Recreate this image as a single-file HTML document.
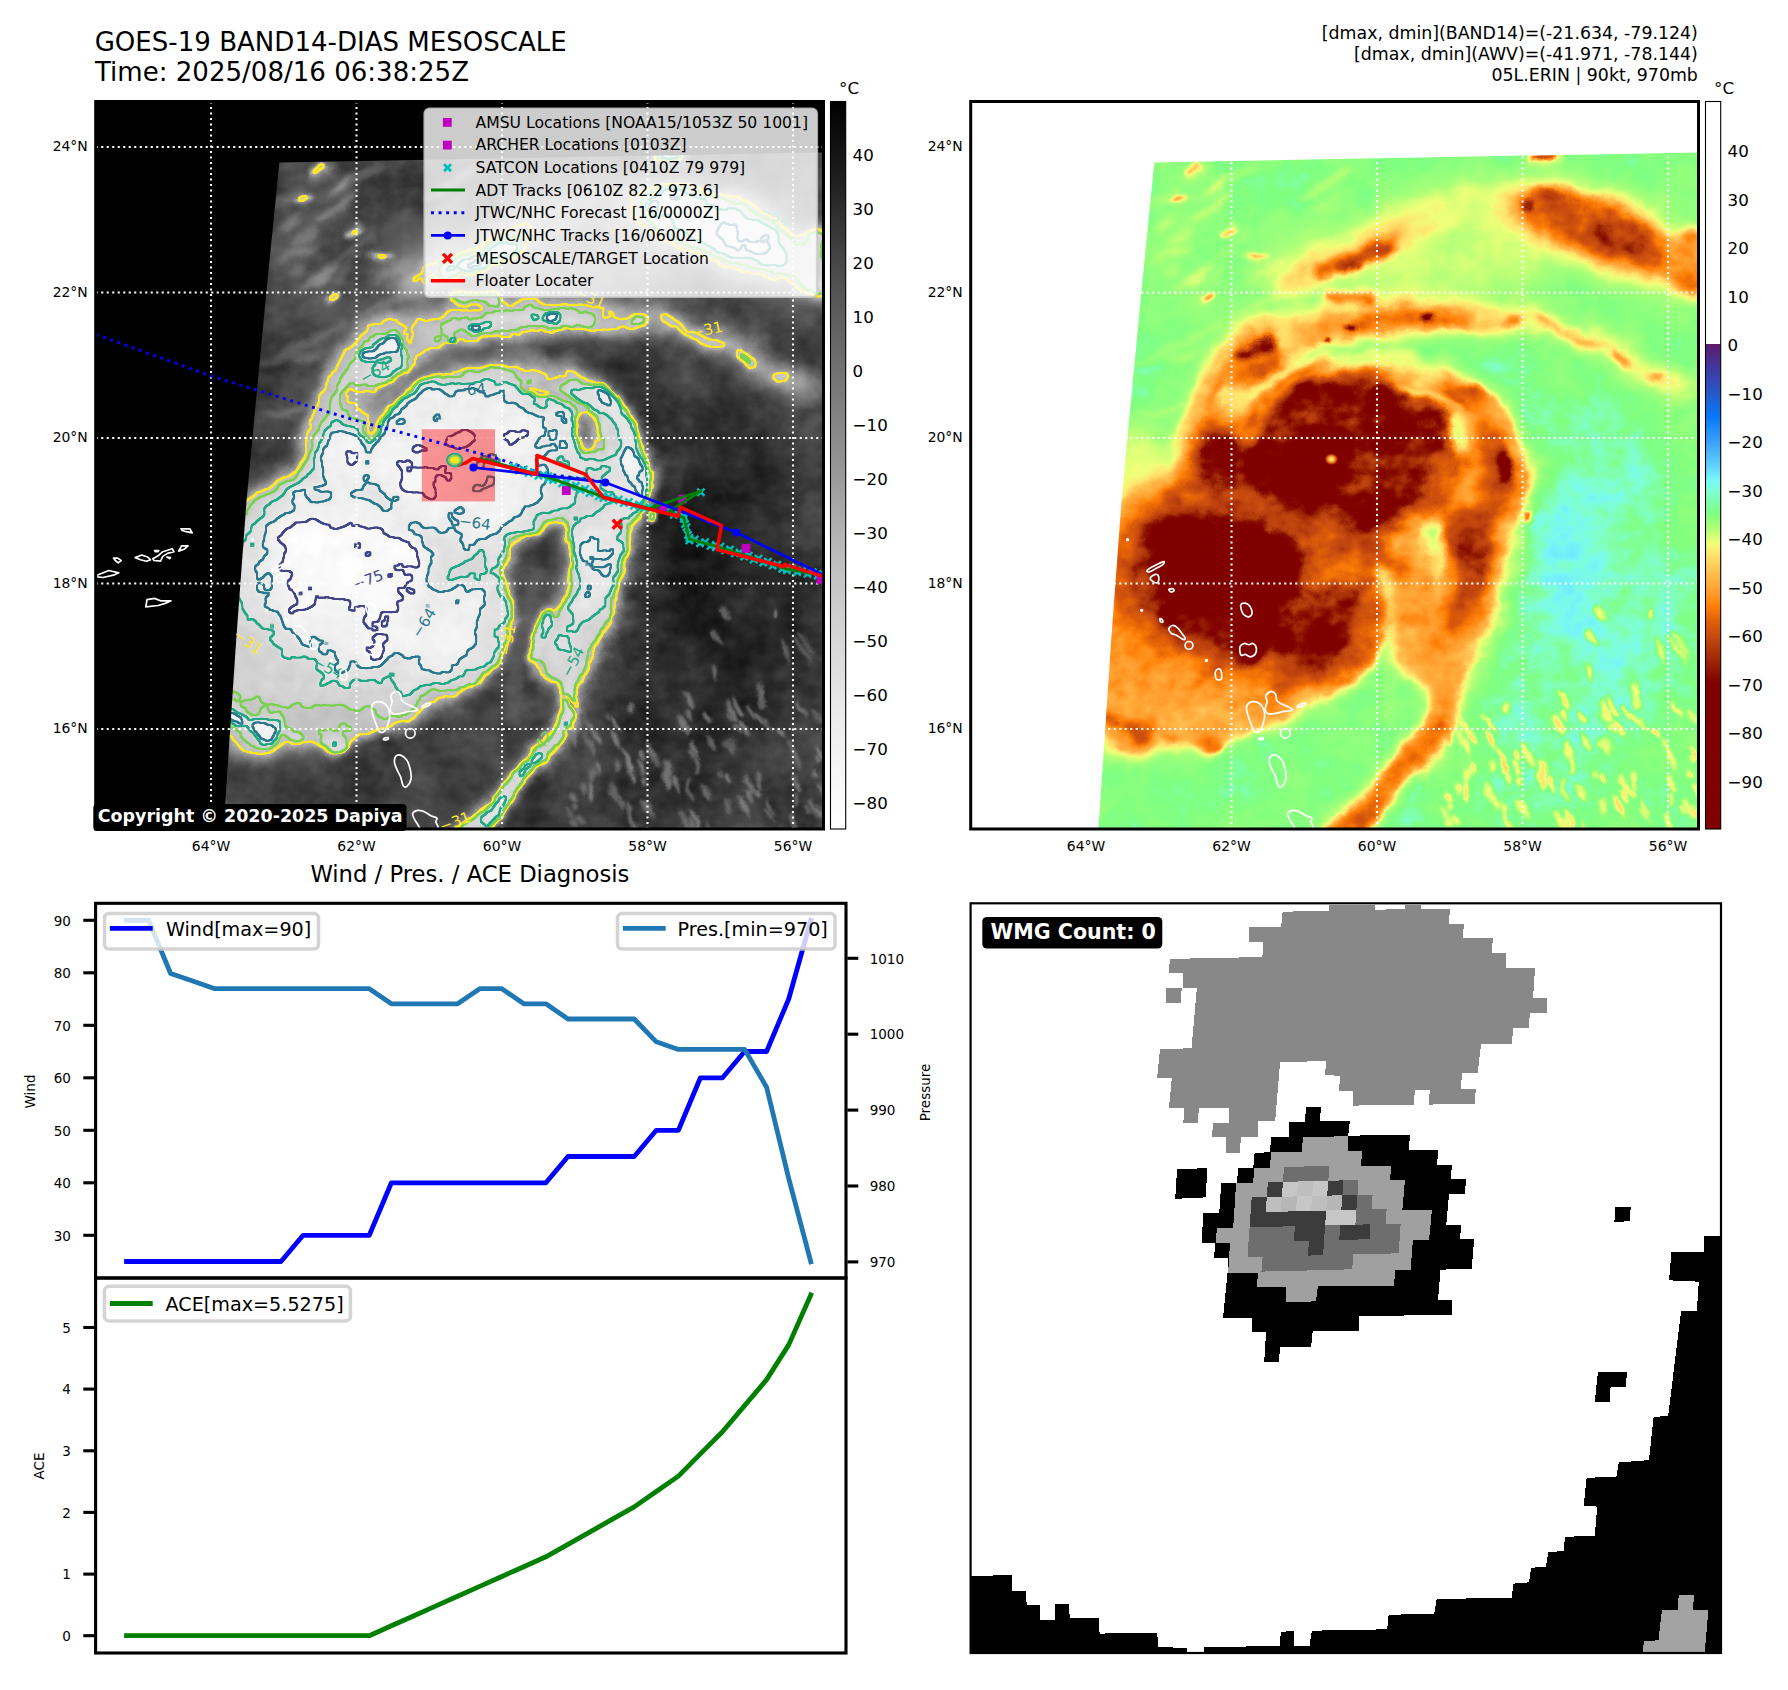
<!DOCTYPE html><html><head><meta charset="utf-8"><title>GOES-19 BAND14-DIAS MESOSCALE</title><style>html,body{margin:0;padding:0;background:#fff;overflow:hidden}svg{display:block}</style></head><body>
<svg width="1788" height="1690" viewBox="0 0 1788 1690" font-family="'DejaVu Sans','Liberation Sans',sans-serif">
<defs>
<filter id="b1_5" filterUnits="userSpaceOnUse" x="0" y="0" width="1000" height="1000" color-interpolation-filters="sRGB"><feGaussianBlur stdDeviation="1.5"/></filter><filter id="b1_8" filterUnits="userSpaceOnUse" x="0" y="0" width="1000" height="1000" color-interpolation-filters="sRGB"><feGaussianBlur stdDeviation="1.8"/></filter><filter id="b2" filterUnits="userSpaceOnUse" x="0" y="0" width="1000" height="1000" color-interpolation-filters="sRGB"><feGaussianBlur stdDeviation="2"/></filter><filter id="b2_5" filterUnits="userSpaceOnUse" x="0" y="0" width="1000" height="1000" color-interpolation-filters="sRGB"><feGaussianBlur stdDeviation="2.5"/></filter><filter id="b3" filterUnits="userSpaceOnUse" x="0" y="0" width="1000" height="1000" color-interpolation-filters="sRGB"><feGaussianBlur stdDeviation="3"/></filter><filter id="b3_5" filterUnits="userSpaceOnUse" x="0" y="0" width="1000" height="1000" color-interpolation-filters="sRGB"><feGaussianBlur stdDeviation="3.5"/></filter><filter id="b4" filterUnits="userSpaceOnUse" x="0" y="0" width="1000" height="1000" color-interpolation-filters="sRGB"><feGaussianBlur stdDeviation="4"/></filter><filter id="b5" filterUnits="userSpaceOnUse" x="0" y="0" width="1000" height="1000" color-interpolation-filters="sRGB"><feGaussianBlur stdDeviation="5"/></filter><filter id="b6" filterUnits="userSpaceOnUse" x="0" y="0" width="1000" height="1000" color-interpolation-filters="sRGB"><feGaussianBlur stdDeviation="6"/></filter><filter id="b7" filterUnits="userSpaceOnUse" x="0" y="0" width="1000" height="1000" color-interpolation-filters="sRGB"><feGaussianBlur stdDeviation="7"/></filter><filter id="b8" filterUnits="userSpaceOnUse" x="0" y="0" width="1000" height="1000" color-interpolation-filters="sRGB"><feGaussianBlur stdDeviation="8"/></filter><filter id="b9" filterUnits="userSpaceOnUse" x="0" y="0" width="1000" height="1000" color-interpolation-filters="sRGB"><feGaussianBlur stdDeviation="9"/></filter><filter id="b11" filterUnits="userSpaceOnUse" x="0" y="0" width="1000" height="1000" color-interpolation-filters="sRGB"><feGaussianBlur stdDeviation="11"/></filter><filter id="b12" filterUnits="userSpaceOnUse" x="0" y="0" width="1000" height="1000" color-interpolation-filters="sRGB"><feGaussianBlur stdDeviation="12"/></filter><filter id="b14" filterUnits="userSpaceOnUse" x="0" y="0" width="1000" height="1000" color-interpolation-filters="sRGB"><feGaussianBlur stdDeviation="14"/></filter><filter id="b22" filterUnits="userSpaceOnUse" x="0" y="0" width="1000" height="1000" color-interpolation-filters="sRGB"><feGaussianBlur stdDeviation="22"/></filter><filter id="b30" filterUnits="userSpaceOnUse" x="0" y="0" width="1000" height="1000" color-interpolation-filters="sRGB"><feGaussianBlur stdDeviation="30"/></filter><filter id="b38" filterUnits="userSpaceOnUse" x="0" y="0" width="1000" height="1000" color-interpolation-filters="sRGB"><feGaussianBlur stdDeviation="38"/></filter>
<filter id="fTL" filterUnits="userSpaceOnUse" x="90" y="96" width="740" height="740" color-interpolation-filters="sRGB"><feTurbulence type="fractalNoise" baseFrequency="0.018" numOctaves="5" seed="4" result="n0"/><feColorMatrix in="n0" type="matrix" values="1 0 0 0 0  1 0 0 0 0  1 0 0 0 0  0 0 0 0 1" result="n"/><feDisplacementMap in="SourceGraphic" in2="n0" scale="24" xChannelSelector="R" yChannelSelector="G" result="d"/><feComposite operator="arithmetic" in="d" in2="n" k1="0" k2="1" k3="0.16" k4="-0.08" result="f0"/><feTurbulence type="fractalNoise" baseFrequency="0.06 0.075" numOctaves="2" seed="11" result="m0"/><feColorMatrix in="m0" type="matrix" values="1 0 0 0 0  1 0 0 0 0  1 0 0 0 0  0 0 0 0 1" result="m"/><feComposite operator="arithmetic" in="f0" in2="m" k1="0" k2="1" k3="0.075" k4="-0.0375" result="f"/><feComponentTransfer in="f" result="img"><feFuncR type="table" tableValues="1.000 1.000 1.000 1.000 1.000 1.000 1.000 1.000 0.998 0.991 0.983 0.976 0.969 0.963 0.956 0.948 0.941 0.930 0.921 0.910 0.898 0.887 0.879 0.867 0.856 0.843 0.829 0.819 0.805 0.792 0.778 0.764 0.754 0.739 0.720 0.701 0.682 0.667 0.648 0.629 0.610 0.591 0.577 0.560 0.543 0.526 0.509 0.496 0.478 0.461 0.444 0.432 0.416 0.400 0.383 0.367 0.355 0.339 0.323 0.301 0.279 0.262 0.240 0.218 0.196 0.173 0.157 0.137 0.118 0.100 0.082 0.068 0.050 0.032 0.014 0.000"/><feFuncG type="table" tableValues="1.000 1.000 1.000 1.000 1.000 1.000 1.000 1.000 0.998 0.991 0.983 0.976 0.969 0.963 0.956 0.948 0.941 0.930 0.921 0.910 0.898 0.887 0.879 0.867 0.856 0.843 0.829 0.819 0.805 0.792 0.778 0.764 0.754 0.739 0.720 0.701 0.682 0.667 0.648 0.629 0.610 0.591 0.577 0.560 0.543 0.526 0.509 0.496 0.478 0.461 0.444 0.432 0.416 0.400 0.383 0.367 0.355 0.339 0.323 0.301 0.279 0.262 0.240 0.218 0.196 0.173 0.157 0.137 0.118 0.100 0.082 0.068 0.050 0.032 0.014 0.000"/><feFuncB type="table" tableValues="1.000 1.000 1.000 1.000 1.000 1.000 1.000 1.000 0.998 0.991 0.983 0.976 0.969 0.963 0.956 0.948 0.941 0.930 0.921 0.910 0.898 0.887 0.879 0.867 0.856 0.843 0.829 0.819 0.805 0.792 0.778 0.764 0.754 0.739 0.720 0.701 0.682 0.667 0.648 0.629 0.610 0.591 0.577 0.560 0.543 0.526 0.509 0.496 0.478 0.461 0.444 0.432 0.416 0.400 0.383 0.367 0.355 0.339 0.323 0.301 0.279 0.262 0.240 0.218 0.196 0.173 0.157 0.137 0.118 0.100 0.082 0.068 0.050 0.032 0.014 0.000"/></feComponentTransfer><feColorMatrix in="f" type="matrix" values="0 0 0 0 0  0 0 0 0 0  0 0 0 0 0  1 0 0 0 0" result="fa"/><feComponentTransfer in="fa" result="L31m0"><feFuncA type="discrete" tableValues="1 1 1 1 1 1 1 1 1 1 1 1 1 1 1 1 1 1 1 1 1 1 1 1 1 1 1 1 1 1 1 1 1 1 1 1 1 1 1 1 1 1 1 1 1 1 1 1 1 1 1 1 1 1 1 1 1 1 1 1 1 1 1 1 1 1 1 1 1 0 0 0 0 0 0 0 0 0 0 0 0 0 0 0 0 0 0 0 0 0 0 0 0 0 0 0 0 0 0 0 0 0 0 0 0 0 0 0 0 0 0 0 0 0 0 0 0 0 0 0 0 0 0 0 0 0 0 0 0 0 0 0 0 0 0 0 0 0 0 0 0 0 0 0 0 0 0 0 0 0"/></feComponentTransfer><feGaussianBlur in="L31m0" stdDeviation="1.1" result="L31m1"/><feComponentTransfer in="L31m1" result="L31m"><feFuncA type="linear" slope="5" intercept="-2"/></feComponentTransfer><feMorphology in="L31m" operator="dilate" radius="1.3" result="L31d"/><feMorphology in="L31m" operator="erode" radius="1.0" result="L31e"/><feComposite in="L31d" in2="L31e" operator="out" result="L31r"/><feFlood flood-color="#fde725" result="L31c"/><feComposite in="L31c" in2="L31r" operator="in" result="L31k"/><feGaussianBlur in="L31k" stdDeviation="0.4" result="L31x"/><feComponentTransfer in="fa" result="L42m0"><feFuncA type="discrete" tableValues="1 1 1 1 1 1 1 1 1 1 1 1 1 1 1 1 1 1 1 1 1 1 1 1 1 1 1 1 1 1 1 1 1 1 1 1 1 1 1 1 1 1 1 1 1 1 1 1 1 1 1 1 1 1 1 1 1 1 0 0 0 0 0 0 0 0 0 0 0 0 0 0 0 0 0 0 0 0 0 0 0 0 0 0 0 0 0 0 0 0 0 0 0 0 0 0 0 0 0 0 0 0 0 0 0 0 0 0 0 0 0 0 0 0 0 0 0 0 0 0 0 0 0 0 0 0 0 0 0 0 0 0 0 0 0 0 0 0 0 0 0 0 0 0 0 0 0 0 0 0"/></feComponentTransfer><feGaussianBlur in="L42m0" stdDeviation="1.1" result="L42m1"/><feComponentTransfer in="L42m1" result="L42m"><feFuncA type="linear" slope="5" intercept="-2"/></feComponentTransfer><feMorphology in="L42m" operator="dilate" radius="1.3" result="L42d"/><feMorphology in="L42m" operator="erode" radius="1.0" result="L42e"/><feComposite in="L42d" in2="L42e" operator="out" result="L42r"/><feFlood flood-color="#7ad151" result="L42c"/><feComposite in="L42c" in2="L42r" operator="in" result="L42k"/><feGaussianBlur in="L42k" stdDeviation="0.4" result="L42x"/><feComponentTransfer in="fa" result="L54m0"><feFuncA type="discrete" tableValues="1 1 1 1 1 1 1 1 1 1 1 1 1 1 1 1 1 1 1 1 1 1 1 1 1 1 1 1 1 1 1 1 1 1 1 1 1 1 1 1 1 1 1 1 1 1 0 0 0 0 0 0 0 0 0 0 0 0 0 0 0 0 0 0 0 0 0 0 0 0 0 0 0 0 0 0 0 0 0 0 0 0 0 0 0 0 0 0 0 0 0 0 0 0 0 0 0 0 0 0 0 0 0 0 0 0 0 0 0 0 0 0 0 0 0 0 0 0 0 0 0 0 0 0 0 0 0 0 0 0 0 0 0 0 0 0 0 0 0 0 0 0 0 0 0 0 0 0 0 0"/></feComponentTransfer><feGaussianBlur in="L54m0" stdDeviation="1.1" result="L54m1"/><feComponentTransfer in="L54m1" result="L54m"><feFuncA type="linear" slope="5" intercept="-2"/></feComponentTransfer><feMorphology in="L54m" operator="dilate" radius="1.3" result="L54d"/><feMorphology in="L54m" operator="erode" radius="1.0" result="L54e"/><feComposite in="L54d" in2="L54e" operator="out" result="L54r"/><feFlood flood-color="#22a884" result="L54c"/><feComposite in="L54c" in2="L54r" operator="in" result="L54k"/><feGaussianBlur in="L54k" stdDeviation="0.4" result="L54x"/><feComponentTransfer in="fa" result="L64m0"><feFuncA type="discrete" tableValues="1 1 1 1 1 1 1 1 1 1 1 1 1 1 1 1 1 1 1 1 1 1 1 1 1 1 1 1 1 1 1 1 1 1 1 1 0 0 0 0 0 0 0 0 0 0 0 0 0 0 0 0 0 0 0 0 0 0 0 0 0 0 0 0 0 0 0 0 0 0 0 0 0 0 0 0 0 0 0 0 0 0 0 0 0 0 0 0 0 0 0 0 0 0 0 0 0 0 0 0 0 0 0 0 0 0 0 0 0 0 0 0 0 0 0 0 0 0 0 0 0 0 0 0 0 0 0 0 0 0 0 0 0 0 0 0 0 0 0 0 0 0 0 0 0 0 0 0 0 0"/></feComponentTransfer><feGaussianBlur in="L64m0" stdDeviation="1.1" result="L64m1"/><feComponentTransfer in="L64m1" result="L64m"><feFuncA type="linear" slope="5" intercept="-2"/></feComponentTransfer><feMorphology in="L64m" operator="dilate" radius="1.3" result="L64d"/><feMorphology in="L64m" operator="erode" radius="1.0" result="L64e"/><feComposite in="L64d" in2="L64e" operator="out" result="L64r"/><feFlood flood-color="#2a788e" result="L64c"/><feComposite in="L64c" in2="L64r" operator="in" result="L64k"/><feGaussianBlur in="L64k" stdDeviation="0.4" result="L64x"/><feComponentTransfer in="fa" result="L75m0"><feFuncA type="discrete" tableValues="1 1 1 1 1 1 1 1 1 1 1 1 1 1 1 1 1 1 1 1 1 1 1 1 1 0 0 0 0 0 0 0 0 0 0 0 0 0 0 0 0 0 0 0 0 0 0 0 0 0 0 0 0 0 0 0 0 0 0 0 0 0 0 0 0 0 0 0 0 0 0 0 0 0 0 0 0 0 0 0 0 0 0 0 0 0 0 0 0 0 0 0 0 0 0 0 0 0 0 0 0 0 0 0 0 0 0 0 0 0 0 0 0 0 0 0 0 0 0 0 0 0 0 0 0 0 0 0 0 0 0 0 0 0 0 0 0 0 0 0 0 0 0 0 0 0 0 0 0 0"/></feComponentTransfer><feGaussianBlur in="L75m0" stdDeviation="1.1" result="L75m1"/><feComponentTransfer in="L75m1" result="L75m"><feFuncA type="linear" slope="5" intercept="-2"/></feComponentTransfer><feMorphology in="L75m" operator="dilate" radius="1.3" result="L75d"/><feMorphology in="L75m" operator="erode" radius="1.0" result="L75e"/><feComposite in="L75d" in2="L75e" operator="out" result="L75r"/><feFlood flood-color="#414487" result="L75c"/><feComposite in="L75c" in2="L75r" operator="in" result="L75k"/><feGaussianBlur in="L75k" stdDeviation="0.4" result="L75x"/><feMerge><feMergeNode in="img"/><feMergeNode in="L31x"/><feMergeNode in="L42x"/><feMergeNode in="L54x"/><feMergeNode in="L64x"/><feMergeNode in="L75x"/></feMerge></filter><filter id="fTR" filterUnits="userSpaceOnUse" x="90" y="96" width="740" height="740" color-interpolation-filters="sRGB"><feTurbulence type="fractalNoise" baseFrequency="0.018" numOctaves="5" seed="4" result="n0"/><feColorMatrix in="n0" type="matrix" values="1 0 0 0 0  1 0 0 0 0  1 0 0 0 0  0 0 0 0 1" result="n"/><feDisplacementMap in="SourceGraphic" in2="n0" scale="24" xChannelSelector="R" yChannelSelector="G" result="d"/><feComposite operator="arithmetic" in="d" in2="n" k1="0" k2="1" k3="0.16" k4="-0.08" result="f0"/><feTurbulence type="fractalNoise" baseFrequency="0.06 0.075" numOctaves="2" seed="11" result="m0"/><feColorMatrix in="m0" type="matrix" values="1 0 0 0 0  1 0 0 0 0  1 0 0 0 0  0 0 0 0 1" result="m"/><feComposite operator="arithmetic" in="f0" in2="m" k1="0" k2="1" k3="0.075" k4="-0.0375" result="f"/><feComponentTransfer in="f"><feFuncR type="table" tableValues="0.502 0.502 0.502 0.502 0.502 0.502 0.502 0.502 0.502 0.502 0.502 0.502 0.502 0.502 0.502 0.510 0.565 0.643 0.722 0.759 0.797 0.835 0.872 0.919 0.959 1.000 1.000 1.000 1.000 1.000 1.000 1.000 1.000 1.000 1.000 1.000 1.000 0.989 0.973 0.957 0.941 0.916 0.891 0.866 0.841 0.816 0.791 0.765 0.740 0.715 0.690 0.675 0.660 0.645 0.630 0.615 0.601 0.586 0.571 0.556 0.541 0.521 0.502 0.502 0.502 0.502 0.502 0.497 0.486 0.476 0.455 0.445 0.436 0.427 0.417 0.408"/><feFuncG type="table" tableValues="0.000 0.000 0.000 0.000 0.000 0.000 0.000 0.000 0.000 0.000 0.000 0.000 0.000 0.000 0.000 0.016 0.094 0.173 0.243 0.276 0.308 0.340 0.371 0.418 0.460 0.502 0.544 0.586 0.627 0.659 0.693 0.727 0.764 0.806 0.849 0.881 0.903 0.926 0.951 0.975 1.000 1.000 1.000 1.000 1.000 1.000 1.000 1.000 1.000 1.000 1.000 1.000 1.000 1.000 1.000 1.000 1.000 1.000 1.000 1.000 1.000 1.000 1.000 1.000 1.000 1.000 1.000 0.995 0.986 0.977 0.946 0.931 0.915 0.899 0.884 0.868"/><feFuncB type="table" tableValues="0.000 0.000 0.000 0.000 0.000 0.000 0.000 0.000 0.000 0.000 0.000 0.000 0.000 0.000 0.000 0.000 0.008 0.027 0.047 0.056 0.059 0.046 0.033 0.031 0.031 0.031 0.084 0.136 0.188 0.220 0.254 0.288 0.322 0.357 0.391 0.416 0.434 0.445 0.453 0.462 0.471 0.471 0.471 0.471 0.471 0.471 0.471 0.471 0.471 0.471 0.471 0.473 0.476 0.478 0.481 0.483 0.486 0.488 0.491 0.493 0.495 0.499 0.509 0.537 0.608 0.678 0.749 0.816 0.878 0.941 0.977 0.980 0.983 0.985 0.988 0.991"/></feComponentTransfer></filter>
<clipPath id="quad"><polygon points="279.3,162.4 826.0,152.4 826.0,831.0 223.3,831.0 236.2,640.0 246.6,500.0 251.3,450.0 265.0,306.0"/></clipPath><clipPath id="axTL"><rect x="95.7" y="101.5" width="727.8" height="727.5"/></clipPath><radialGradient id="eyeg"><stop offset="0" stop-color="#fff080"/><stop offset="0.35" stop-color="#ffc050"/><stop offset="0.7" stop-color="#e06008" stop-opacity="0.9"/><stop offset="1" stop-color="#a02808" stop-opacity="0"/></radialGradient><linearGradient id="cbTL" x1="0" y1="0" x2="0" y2="1"><stop offset="0.000" stop-color="#000000"/><stop offset="0.050" stop-color="#0e0e0e"/><stop offset="0.100" stop-color="#1d1d1d"/><stop offset="0.150" stop-color="#2e2e2e"/><stop offset="0.200" stop-color="#404040"/><stop offset="0.250" stop-color="#515151"/><stop offset="0.300" stop-color="#5f5f5f"/><stop offset="0.350" stop-color="#6c6c6c"/><stop offset="0.400" stop-color="#7a7a7a"/><stop offset="0.450" stop-color="#888888"/><stop offset="0.500" stop-color="#959595"/><stop offset="0.550" stop-color="#a5a5a5"/><stop offset="0.600" stop-color="#b5b5b5"/><stop offset="0.650" stop-color="#c3c3c3"/><stop offset="0.700" stop-color="#cecece"/><stop offset="0.750" stop-color="#d9d9d9"/><stop offset="0.800" stop-color="#e2e2e2"/><stop offset="0.850" stop-color="#ececec"/><stop offset="0.900" stop-color="#f3f3f3"/><stop offset="0.950" stop-color="#f9f9f9"/><stop offset="1.000" stop-color="#ffffff"/></linearGradient><linearGradient id="cbTR" x1="0" y1="0" x2="0" y2="1"><stop offset="0.0000" stop-color="#ffffff"/><stop offset="0.3333" stop-color="#ffffff"/><stop offset="0.3333" stop-color="#5e1a6e"/><stop offset="0.3667" stop-color="#4038a0"/><stop offset="0.4000" stop-color="#2858c8"/><stop offset="0.4333" stop-color="#0878f8"/><stop offset="0.4667" stop-color="#38a0f8"/><stop offset="0.5000" stop-color="#60d0ff"/><stop offset="0.5200" stop-color="#78f8f8"/><stop offset="0.5400" stop-color="#80ffc8"/><stop offset="0.5667" stop-color="#80ff80"/><stop offset="0.5867" stop-color="#b0ff78"/><stop offset="0.6067" stop-color="#f0ff78"/><stop offset="0.6200" stop-color="#ffe870"/><stop offset="0.6467" stop-color="#ffc050"/><stop offset="0.6733" stop-color="#ffa030"/><stop offset="0.6933" stop-color="#ff8008"/><stop offset="0.7133" stop-color="#e06008"/><stop offset="0.7333" stop-color="#c84c10"/><stop offset="0.7600" stop-color="#a83008"/><stop offset="0.7867" stop-color="#881000"/><stop offset="0.8000" stop-color="#800000"/><stop offset="1.0000" stop-color="#800000"/></linearGradient>
<g id="fld"><rect x="80" y="90" width="760" height="750" fill="#d1d1d1"/><ellipse cx="715.0" cy="590.0" rx="75.0" ry="180.0" fill="#e7e7e7" filter="url(#b38)"/><ellipse cx="650.0" cy="770.0" rx="60.0" ry="50.0" fill="#dddddd" filter="url(#b30)"/><ellipse cx="330.0" cy="260.0" rx="60.0" ry="90.0" fill="#c5c5c5" filter="url(#b30)"/><ellipse cx="540.0" cy="262.0" rx="150.0" ry="45.0" fill="#9c9c9c" filter="url(#b22)"/><ellipse cx="333.3" cy="210.7" rx="23.0" ry="3.5" fill="#949494" transform="rotate(-26.60294989233277 333.3 210.7)" filter="url(#b3)"/><ellipse cx="340.8" cy="185.7" rx="20.1" ry="3.5" fill="#939393" transform="rotate(-29.158857908440353 340.8 185.7)" filter="url(#b3)"/><ellipse cx="287.6" cy="194.5" rx="18.5" ry="3.5" fill="#acacac" transform="rotate(-36.90495097125886 287.6 194.5)" filter="url(#b3)"/><ellipse cx="315.2" cy="339.4" rx="29.0" ry="3.5" fill="#a4a4a4" transform="rotate(-30.082988133730495 315.2 339.4)" filter="url(#b3)"/><ellipse cx="450.7" cy="182.6" rx="27.2" ry="3.5" fill="#9b9b9b" transform="rotate(-36.39362291606406 450.7 182.6)" filter="url(#b3)"/><ellipse cx="296.2" cy="253.3" rx="26.3" ry="3.5" fill="#989898" transform="rotate(-25.459995908438344 296.2 253.3)" filter="url(#b3)"/><ellipse cx="390.0" cy="270.5" rx="21.0" ry="3.5" fill="#949494" transform="rotate(-38.50997075084418 390.0 270.5)" filter="url(#b3)"/><ellipse cx="312.1" cy="353.7" rx="18.6" ry="3.5" fill="#9c9c9c" transform="rotate(-25.36095341230903 312.1 353.7)" filter="url(#b3)"/><ellipse cx="356.6" cy="250.9" rx="25.9" ry="3.5" fill="#a8a8a8" transform="rotate(-33.897587231946176 356.6 250.9)" filter="url(#b3)"/><ellipse cx="378.4" cy="311.8" rx="27.5" ry="3.5" fill="#a9a9a9" transform="rotate(-32.801555877745336 378.4 311.8)" filter="url(#b3)"/><ellipse cx="451.4" cy="201.9" rx="18.4" ry="3.5" fill="#a9a9a9" transform="rotate(-36.20038663348738 451.4 201.9)" filter="url(#b3)"/><ellipse cx="363.0" cy="180.6" rx="23.4" ry="3.5" fill="#aaaaaa" transform="rotate(-25.6743514930654 363.0 180.6)" filter="url(#b3)"/><ellipse cx="432.6" cy="254.7" rx="23.9" ry="3.5" fill="#a4a4a4" transform="rotate(-25.502619892937695 432.6 254.7)" filter="url(#b3)"/><ellipse cx="357.1" cy="396.8" rx="28.9" ry="3.5" fill="#a1a1a1" transform="rotate(-23.39619486313314 357.1 396.8)" filter="url(#b3)"/><ellipse cx="285.9" cy="359.4" rx="22.9" ry="3.5" fill="#b1b1b1" transform="rotate(-19.451880334757128 285.9 359.4)" filter="url(#b3)"/><ellipse cx="326.2" cy="274.2" rx="23.4" ry="3.5" fill="#939393" transform="rotate(-28.457617842505854 326.2 274.2)" filter="url(#b3)"/><ellipse cx="305.2" cy="201.6" rx="11.2" ry="3.5" fill="#aaaaaa" transform="rotate(-36.76649444953289 305.2 201.6)" filter="url(#b3)"/><ellipse cx="319.6" cy="275.6" rx="27.4" ry="3.5" fill="#959595" transform="rotate(-28.770314976266725 319.6 275.6)" filter="url(#b3)"/><ellipse cx="373.9" cy="408.5" rx="26.4" ry="3.5" fill="#adadad" transform="rotate(-33.03947338715257 373.9 408.5)" filter="url(#b3)"/><ellipse cx="349.8" cy="266.9" rx="27.7" ry="3.5" fill="#b0b0b0" transform="rotate(-36.226977355222274 349.8 266.9)" filter="url(#b3)"/><ellipse cx="306.7" cy="232.6" rx="14.7" ry="3.5" fill="#a1a1a1" transform="rotate(-25.27191240669361 306.7 232.6)" filter="url(#b3)"/><ellipse cx="322.3" cy="171.1" rx="18.4" ry="3.5" fill="#9d9d9d" transform="rotate(-25.8414694073402 322.3 171.1)" filter="url(#b3)"/><ellipse cx="446.6" cy="356.4" rx="20.3" ry="3.5" fill="#a5a5a5" transform="rotate(-23.094997938762464 446.6 356.4)" filter="url(#b3)"/><ellipse cx="284.7" cy="412.9" rx="25.6" ry="3.5" fill="#adadad" transform="rotate(-20.05317197008585 284.7 412.9)" filter="url(#b3)"/><ellipse cx="345.6" cy="277.7" rx="12.1" ry="3.5" fill="#a6a6a6" transform="rotate(-38.443804459532814 345.6 277.7)" filter="url(#b3)"/><ellipse cx="287.1" cy="226.4" rx="13.2" ry="3.5" fill="#9d9d9d" transform="rotate(-38.68560990274332 287.1 226.4)" filter="url(#b3)"/><ellipse cx="293.3" cy="268.2" rx="10.5" ry="3.5" fill="#adadad" transform="rotate(-24.64827530528803 293.3 268.2)" filter="url(#b3)"/><ellipse cx="301.7" cy="238.1" rx="16.9" ry="3.5" fill="#9d9d9d" transform="rotate(-36.92894423094513 301.7 238.1)" filter="url(#b3)"/><ellipse cx="427.8" cy="438.1" rx="19.3" ry="3.5" fill="#a1a1a1" transform="rotate(-37.85288346109586 427.8 438.1)" filter="url(#b3)"/><ellipse cx="315.0" cy="167.5" rx="10.0" ry="4.5" fill="#666666" transform="rotate(-18 315.0 167.5)" filter="url(#b2_5)"/><ellipse cx="299.4" cy="197.8" rx="10.0" ry="4.5" fill="#666666" transform="rotate(-18 299.4 197.8)" filter="url(#b2_5)"/><ellipse cx="356.3" cy="231.7" rx="10.0" ry="4.5" fill="#666666" transform="rotate(-18 356.3 231.7)" filter="url(#b2_5)"/><ellipse cx="382.0" cy="260.0" rx="10.0" ry="4.5" fill="#666666" transform="rotate(-18 382.0 260.0)" filter="url(#b2_5)"/><ellipse cx="330.0" cy="300.0" rx="10.0" ry="4.5" fill="#666666" transform="rotate(-18 330.0 300.0)" filter="url(#b2_5)"/><path d="M410.0,285.0C415.8,281.2 432.5,268.7 445.0,262.0C457.5,255.3 470.0,251.2 485.0,245.0C500.0,238.8 518.3,230.5 535.0,225.0C551.7,219.5 576.7,214.2 585.0,212.0" fill="none" stroke="#777777" stroke-width="34" stroke-linecap="round" stroke-linejoin="round" filter="url(#b9)"/><path d="M447.0,272.0C451.7,269.7 465.3,261.7 475.0,258.0C484.7,254.3 500.0,251.3 505.0,250.0" fill="none" stroke="#474747" stroke-width="20" stroke-linecap="round" stroke-linejoin="round" filter="url(#b5)"/><ellipse cx="477.0" cy="262.0" rx="12.0" ry="7.0" fill="#333333" transform="rotate(-20 477.0 262.0)" filter="url(#b3)"/><path d="M545.0,215.0C555.0,213.3 586.7,207.5 605.0,205.0C623.3,202.5 646.7,200.8 655.0,200.0" fill="none" stroke="#858585" stroke-width="50" stroke-linecap="round" stroke-linejoin="round" filter="url(#b14)"/><ellipse cx="737.0" cy="237.0" rx="122.0" ry="42.0" fill="#747474" transform="rotate(20 737.0 237.0)" filter="url(#b11)"/><ellipse cx="731.0" cy="234.0" rx="100.0" ry="25.0" fill="#4b4b4b" transform="rotate(20 731.0 234.0)" filter="url(#b7)"/><ellipse cx="757.0" cy="243.0" rx="48.0" ry="14.0" fill="#3a3a3a" transform="rotate(22 757.0 243.0)" filter="url(#b5)"/><ellipse cx="685.0" cy="205.0" rx="30.0" ry="12.0" fill="#414141" transform="rotate(30 685.0 205.0)" filter="url(#b5)"/><ellipse cx="653.0" cy="205.0" rx="8.0" ry="7.0" fill="#363636" filter="url(#b2)"/><ellipse cx="815.0" cy="262.0" rx="16.0" ry="34.0" fill="#525252" filter="url(#b7)"/><ellipse cx="670.0" cy="157.0" rx="16.0" ry="6.0" fill="#333333" filter="url(#b3)"/><path d="M322.0,440.0C324.3,432.5 330.3,408.7 336.0,395.0C341.7,381.3 347.0,366.8 356.0,358.0C365.0,349.2 378.5,346.2 390.0,342.0C401.5,337.8 410.8,336.0 425.0,333.0C439.2,330.0 458.3,326.5 475.0,324.0C491.7,321.5 508.3,319.5 525.0,318.0C541.7,316.5 558.3,314.7 575.0,315.0C591.7,315.3 616.7,319.2 625.0,320.0" fill="none" stroke="#727272" stroke-width="40" stroke-linecap="round" stroke-linejoin="round" filter="url(#b7)"/><path d="M330.0,430.0C332.0,423.7 336.7,403.7 342.0,392.0C347.3,380.3 353.2,367.8 362.0,360.0C370.8,352.2 382.8,349.3 395.0,345.0C407.2,340.7 420.0,337.3 435.0,334.0C450.0,330.7 468.3,327.3 485.0,325.0C501.7,322.7 518.3,320.5 535.0,320.0C551.7,319.5 576.7,321.7 585.0,322.0" fill="none" stroke="#5f5f5f" stroke-width="18" stroke-linecap="round" stroke-linejoin="round" filter="url(#b5)"/><path d="M332.0,440.0C334.7,433.0 341.3,411.0 348.0,398.0C354.7,385.0 363.0,371.3 372.0,362.0C381.0,352.7 397.0,345.3 402.0,342.0" fill="none" stroke="#707070" stroke-width="56" stroke-linecap="round" stroke-linejoin="round" filter="url(#b7)"/><ellipse cx="383.0" cy="364.0" rx="30.0" ry="15.0" fill="#494949" transform="rotate(-38 383.0 364.0)" filter="url(#b5)"/><path d="M334.0,420.0C335.7,415.0 339.0,400.0 344.0,390.0C349.0,380.0 355.0,367.5 364.0,360.0C373.0,352.5 392.3,347.5 398.0,345.0" fill="none" stroke="#525252" stroke-width="14" stroke-linecap="round" stroke-linejoin="round" filter="url(#b4)"/><path d="M470.0,326.0C478.3,325.0 505.0,321.0 520.0,320.0C535.0,319.0 553.3,320.0 560.0,320.0" fill="none" stroke="#525252" stroke-width="14" stroke-linecap="round" stroke-linejoin="round" filter="url(#b4)"/><path d="M363.0,350.0C366.3,348.7 377.0,344.2 383.0,342.0C389.0,339.8 396.3,337.8 399.0,337.0" fill="none" stroke="#303030" stroke-width="10" stroke-linecap="round" stroke-linejoin="round" filter="url(#b3)"/><path d="M455.0,300.0C459.2,299.3 473.3,296.0 480.0,296.0C486.7,296.0 492.5,299.3 495.0,300.0" fill="none" stroke="#4b4b4b" stroke-width="16" stroke-linecap="round" stroke-linejoin="round" filter="url(#b5)"/><ellipse cx="550.0" cy="318.0" rx="7.0" ry="4.0" fill="#303030" transform="rotate(15 550.0 318.0)" filter="url(#b2)"/><ellipse cx="477.0" cy="327.0" rx="4.0" ry="3.0" fill="#303030" filter="url(#b1_5)"/><ellipse cx="453.0" cy="340.0" rx="4.0" ry="3.0" fill="#333333" filter="url(#b1_5)"/><path d="M645.0,318.0C651.7,319.2 671.7,320.5 685.0,325.0C698.3,329.5 711.7,338.3 725.0,345.0C738.3,351.7 751.7,357.2 765.0,365.0C778.3,372.8 798.3,387.5 805.0,392.0" fill="none" stroke="#818181" stroke-width="28" stroke-linecap="round" stroke-linejoin="round" filter="url(#b8)"/><path d="M665.0,318.0C670.0,320.0 685.0,325.0 695.0,330.0C705.0,335.0 720.0,345.0 725.0,348.0" fill="none" stroke="#5c5c5c" stroke-width="10" stroke-linecap="round" stroke-linejoin="round" filter="url(#b4)"/><ellipse cx="747.0" cy="358.0" rx="10.0" ry="6.0" fill="#555555" transform="rotate(30 747.0 358.0)" filter="url(#b3)"/><ellipse cx="780.0" cy="378.0" rx="9.0" ry="5.0" fill="#585858" transform="rotate(30 780.0 378.0)" filter="url(#b3)"/><ellipse cx="638.0" cy="322.0" rx="8.0" ry="7.0" fill="#555555" filter="url(#b3)"/><path d="M519.0,371.0C528.2,374.7 558.5,384.5 574.0,393.0C589.5,401.5 603.3,410.3 612.0,422.0C620.7,433.7 625.2,447.0 626.0,463.0C626.8,479.0 621.2,499.8 617.0,518.0C612.8,536.2 606.5,553.8 601.0,572.0C595.5,590.2 589.0,612.0 584.0,627.0C579.0,642.0 573.2,656.2 571.0,662.0" fill="none" stroke="#707070" stroke-width="46" stroke-linecap="round" stroke-linejoin="round" filter="url(#b7)"/><path d="M574.0,393.0C580.3,397.8 603.3,410.3 612.0,422.0C620.7,433.7 625.2,447.0 626.0,463.0C626.8,479.0 621.2,499.8 617.0,518.0C612.8,536.2 606.5,553.8 601.0,572.0C595.5,590.2 589.0,612.0 584.0,627.0C579.0,642.0 573.2,656.2 571.0,662.0" fill="none" stroke="#555555" stroke-width="28" stroke-linecap="round" stroke-linejoin="round" filter="url(#b5)"/><path d="M571.0,662.0C570.3,668.3 568.3,688.7 567.0,700.0C565.7,711.3 567.2,720.5 563.0,730.0C558.8,739.5 549.5,747.8 541.8,757.0C534.1,766.2 525.8,775.7 517.0,785.0C508.2,794.3 498.5,804.5 489.0,813.0C479.5,821.5 464.8,832.2 460.0,836.0" fill="none" stroke="#707070" stroke-width="24" stroke-linecap="round" stroke-linejoin="round" filter="url(#b5)"/><path d="M571.0,662.0C570.3,668.3 568.3,688.7 567.0,700.0C565.7,711.3 567.2,720.5 563.0,730.0C558.8,739.5 549.5,747.8 541.8,757.0C534.1,766.2 525.8,775.7 517.0,785.0C508.2,794.3 498.5,804.5 489.0,813.0C479.5,821.5 464.8,832.2 460.0,836.0" fill="none" stroke="#525252" stroke-width="12" stroke-linecap="round" stroke-linejoin="round" filter="url(#b3_5)"/><path d="M517.0,785.0C512.3,789.7 498.5,804.5 489.0,813.0C479.5,821.5 464.8,832.2 460.0,836.0" fill="none" stroke="#555555" stroke-width="18" stroke-linecap="round" stroke-linejoin="round" filter="url(#b4)"/><path d="M618.0,440.0C618.7,446.7 623.3,465.8 622.0,480.0C620.7,494.2 614.7,509.2 610.0,525.0C605.3,540.8 598.8,559.2 594.0,575.0C589.2,590.8 585.7,605.8 581.0,620.0C576.3,634.2 568.5,653.3 566.0,660.0" fill="none" stroke="#555555" stroke-width="58" stroke-linecap="round" stroke-linejoin="round" filter="url(#b7)"/><path d="M626.0,470.0C624.3,478.3 620.3,503.3 616.0,520.0C611.7,536.7 605.2,555.0 600.0,570.0C594.8,585.0 587.5,603.3 585.0,610.0" fill="none" stroke="#474747" stroke-width="30" stroke-linecap="round" stroke-linejoin="round" filter="url(#b5)"/><path d="M597.0,394.0C601.7,398.0 618.7,407.8 625.0,418.0C631.3,428.2 632.7,441.3 635.0,455.0C637.3,468.7 638.3,492.5 639.0,500.0" fill="none" stroke="#3f3f3f" stroke-width="18" stroke-linecap="round" stroke-linejoin="round" filter="url(#b4)"/><ellipse cx="629.0" cy="460.0" rx="8.0" ry="15.0" fill="#303030" filter="url(#b3)"/><ellipse cx="655.0" cy="518.0" rx="4.0" ry="7.0" fill="#3a3a3a" filter="url(#b2)"/><ellipse cx="593.0" cy="540.0" rx="28.0" ry="38.0" fill="#414141" filter="url(#b6)"/><ellipse cx="542.0" cy="632.0" rx="10.0" ry="26.0" fill="#444444" transform="rotate(15 542.0 632.0)" filter="url(#b4)"/><path d="M541.8,757.0C537.7,761.7 525.8,775.7 517.0,785.0C508.2,794.3 493.7,808.3 489.0,813.0" fill="none" stroke="#474747" stroke-width="8" stroke-linecap="round" stroke-linejoin="round" filter="url(#b3)"/><path d="M214.6,607.6C216.4,584.9 216.4,563.6 220.0,545.0C223.6,526.4 228.2,507.3 236.3,496.0C244.5,484.6 257.0,484.0 269.0,476.9C281.0,469.9 299.2,463.3 308.5,453.8C317.8,444.3 318.2,427.2 324.8,419.8C331.4,412.3 340.4,408.9 347.9,408.9C355.4,408.9 364.3,419.8 369.7,419.8C375.1,419.8 374.7,415.9 380.6,408.9C386.5,401.8 393.3,385.4 405.1,377.6C416.9,369.8 436.2,365.1 451.4,362.1C466.6,359.0 481.5,357.3 496.3,359.3C511.0,361.3 528.2,365.1 539.8,374.0C551.4,383.0 559.3,399.9 565.7,413.0C572.0,426.0 576.8,439.0 577.9,452.4C579.1,465.8 577.7,480.1 572.5,493.2C567.3,506.4 556.1,522.7 546.6,531.4C537.1,540.0 521.4,538.2 515.3,545.0C509.2,551.8 509.9,560.8 509.9,572.2C509.9,583.5 516.2,598.5 515.3,613.0C514.4,627.5 511.5,646.1 504.4,659.3C497.4,672.4 485.2,682.9 473.1,691.9C461.1,701.0 448.2,706.9 432.3,713.7C416.4,720.5 396.0,727.3 377.9,732.8C359.7,738.2 340.7,743.2 323.4,746.4C306.2,749.6 290.8,751.8 274.4,751.8C258.1,751.8 236.3,758.2 225.4,746.4C214.6,734.6 210.9,704.2 209.1,681.1C207.3,657.9 212.7,630.2 214.6,607.6Z" fill="#696969" filter="url(#b7)"/><path d="M222.7,599.4C224.5,583.5 226.4,560.4 230.9,545.0C235.4,529.5 241.8,517.1 249.9,506.9C258.1,496.7 269.7,491.9 279.9,483.7C290.1,475.6 303.7,467.2 311.2,457.9C318.7,448.6 318.7,435.0 324.8,427.9C330.9,420.9 340.7,416.0 347.9,415.7C355.2,415.3 362.5,426.4 368.3,425.7C374.1,425.1 376.2,418.4 382.8,411.6C389.3,404.8 396.4,391.7 407.8,384.9C419.2,378.1 436.9,373.6 451.4,370.8C465.8,368.0 480.1,366.1 494.4,368.0C508.6,370.0 525.4,374.4 536.8,382.2C548.3,390.0 556.7,403.2 563.0,414.9C569.2,426.6 573.4,439.6 574.4,452.4C575.4,465.3 574.0,479.2 568.9,491.9C563.9,504.6 553.4,520.2 543.9,528.6C534.4,537.0 518.0,535.0 511.8,542.2C505.5,549.5 506.3,560.4 506.3,572.2C506.3,584.0 512.7,598.9 511.8,613.0C510.9,627.1 508.2,644.5 500.9,656.6C493.6,668.6 481.5,677.9 468.2,685.1C455.0,692.4 438.3,696.3 421.4,700.1C404.5,704.0 384.7,706.9 367.0,708.3C349.3,709.6 332.0,709.6 315.3,708.3C298.5,706.9 280.3,705.6 266.3,700.1C252.2,694.7 238.6,685.6 230.9,675.6C223.2,665.6 221.4,652.9 220.0,640.2C218.6,627.5 220.9,615.3 222.7,599.4Z" fill="#585858" filter="url(#b6)"/><path d="M236.3,585.8C235.7,574.0 236.3,557.4 240.4,545.0C244.5,532.5 252.4,520.5 260.8,510.9C269.2,501.4 281.7,495.7 290.8,487.8C299.8,479.9 309.6,472.8 315.3,463.3C320.9,453.8 320.3,437.7 324.8,430.6C329.3,423.6 335.9,421.1 342.5,421.1C349.1,421.1 358.6,426.1 364.3,430.6C369.9,435.2 373.1,451.1 376.5,448.3C379.9,445.6 378.8,423.2 384.7,414.3C390.6,405.5 400.8,400.7 411.9,395.3C423.0,389.8 438.0,384.4 451.4,381.7C464.7,378.9 478.8,377.1 492.2,378.9C505.6,380.7 520.3,386.2 531.6,392.5C543.0,398.9 553.7,407.1 560.2,417.0C566.8,427.0 570.2,440.2 571.1,452.4C572.0,464.7 570.7,478.3 565.7,490.5C560.7,502.8 550.7,517.7 541.2,525.9C531.6,534.1 514.9,531.8 508.5,539.5C502.2,547.2 503.1,559.9 503.1,572.2C503.1,584.4 509.4,599.4 508.5,613.0C507.6,626.6 504.9,642.7 497.6,653.8C490.4,665.0 479.5,673.6 465.0,679.7C450.4,685.8 428.7,689.7 410.5,690.6C392.4,691.5 372.0,688.3 356.1,685.1C340.2,682.0 329.3,677.9 315.3,671.5C301.2,665.2 283.5,656.3 271.7,647.0C259.9,637.7 250.4,625.9 244.5,615.7C238.6,605.5 237.0,597.6 236.3,585.8Z" fill="#494949" filter="url(#b5)"/><ellipse cx="585.0" cy="490.0" rx="45.0" ry="38.0" fill="#4b4b4b" filter="url(#b7)"/><path d="M370.0,432.0C374.4,426.2 387.7,407.7 396.5,397.0C405.3,386.3 408.1,375.0 422.7,368.0C437.3,361.0 466.4,357.2 484.0,355.0C501.6,352.8 520.7,355.0 528.0,355.0" fill="none" stroke="#aaaaaa" stroke-width="10" stroke-linecap="round" stroke-linejoin="round" filter="url(#b5)"/><path d="M522.1,381.7C530.7,386.2 560.9,398.0 573.8,408.9C586.8,419.8 595.4,440.6 599.7,447.0" fill="none" stroke="#888888" stroke-width="6" stroke-linecap="round" stroke-linejoin="round" filter="url(#b3)"/><path d="M538.0,572.0C536.7,578.3 533.0,595.3 530.0,610.0C527.0,624.7 523.0,642.5 520.0,660.0C517.0,677.5 513.3,705.8 512.0,715.0" fill="none" stroke="#b8b8b8" stroke-width="15" stroke-linecap="round" stroke-linejoin="round" filter="url(#b6)"/><ellipse cx="463.0" cy="459.0" rx="96.0" ry="71.0" fill="#393939" filter="url(#b6)"/><ellipse cx="462.0" cy="459.0" rx="78.0" ry="55.0" fill="#313131" filter="url(#b7)"/><ellipse cx="457.0" cy="459.0" rx="48.0" ry="36.0" fill="#323232" filter="url(#b6)"/><ellipse cx="462.0" cy="441.0" rx="16.0" ry="10.0" fill="#202020" filter="url(#b3)"/><ellipse cx="342.0" cy="465.0" rx="20.0" ry="37.0" fill="#3a3a3a" filter="url(#b4)"/><ellipse cx="340.0" cy="464.0" rx="13.0" ry="22.0" fill="#2c2c2c" filter="url(#b4)"/><ellipse cx="465.0" cy="530.0" rx="28.0" ry="16.0" fill="#383838" filter="url(#b4)"/><path d="M255.4,572.2C256.6,562.7 258.6,544.5 264.9,534.1C271.3,523.6 288.7,517.3 293.5,509.6C298.3,501.9 287.6,492.1 293.5,487.8C299.4,483.5 318.4,482.1 328.9,483.7C339.3,485.3 347.0,493.2 356.1,497.3C365.2,501.4 374.2,503.5 383.3,508.2C392.4,513.0 402.4,517.5 410.5,525.9C418.7,534.3 427.8,549.0 432.3,558.6C436.8,568.1 432.3,579.9 437.7,583.1C443.2,586.2 456.3,575.8 465.0,577.6C473.6,579.4 486.1,585.3 489.5,594.0C492.9,602.6 489.0,619.4 485.4,629.3C481.7,639.3 474.0,646.4 467.7,653.8C461.3,661.3 455.0,671.3 447.3,674.3C439.6,677.2 427.5,675.4 421.4,671.5C415.3,667.7 415.1,654.7 410.5,651.1C406.0,647.5 400.5,647.7 394.2,649.8C387.8,651.8 380.6,660.2 372.4,663.4C364.3,666.5 354.1,669.5 345.2,668.8C336.4,668.1 327.7,664.7 319.3,659.3C311.0,653.8 302.6,643.9 294.9,636.1C287.1,628.4 279.3,620.5 273.1,613.0C266.9,605.5 260.5,598.0 257.6,591.2C254.6,584.4 254.2,581.7 255.4,572.2Z" fill="#383838" filter="url(#b5)"/><path d="M278.1,534.3C281.7,530.7 288.2,526.6 295.1,524.6C301.9,522.6 311.6,521.8 319.3,522.2C327.0,522.6 334.3,526.6 341.2,527.0C348.0,527.4 353.3,524.6 360.6,524.6C367.8,524.6 377.1,523.8 384.8,527.0C392.5,530.3 399.4,537.6 406.7,544.0C413.9,550.5 424.0,559.0 428.5,565.9C432.9,572.7 433.7,578.8 433.3,585.3C432.9,591.7 428.1,598.2 426.1,604.7C424.0,611.1 424.0,618.0 421.2,624.1C418.4,630.1 415.1,637.0 409.1,641.1C403.0,645.1 392.1,645.5 384.8,648.3C377.5,651.2 371.9,658.0 365.4,658.0C358.9,658.0 351.7,651.6 346.0,648.3C340.3,645.1 337.1,643.1 331.4,638.6C325.8,634.2 318.1,628.1 312.0,621.7C306.0,615.2 299.5,605.9 295.1,599.8C290.6,593.8 288.6,590.9 285.4,585.3C282.1,579.6 277.7,572.3 275.7,565.9C273.6,559.4 272.8,551.7 273.2,546.4C273.6,541.2 274.4,538.0 278.1,534.3Z" fill="#2e2e2e" filter="url(#b6)"/><path d="M298.9,545.0C300.3,538.6 316.6,536.8 328.9,534.1C341.1,531.4 361.1,528.2 372.4,528.6C383.8,529.1 389.2,531.4 396.9,536.8C404.6,542.2 414.6,551.8 418.7,561.3C422.8,570.8 422.8,585.3 421.4,594.0C420.1,602.6 416.9,610.7 410.5,613.0C404.2,615.3 391.5,609.4 383.3,607.6C375.1,605.8 369.2,603.9 361.5,602.1C353.8,600.3 343.8,601.7 337.0,596.7C330.2,591.7 327.1,580.8 320.7,572.2C314.4,563.6 297.6,551.3 298.9,545.0Z" fill="#252525" filter="url(#b4)"/><ellipse cx="350.0" cy="568.0" rx="12.0" ry="14.0" fill="#161616" filter="url(#b3)"/><ellipse cx="235.0" cy="708.0" rx="9.0" ry="15.0" fill="#2c2c2c" filter="url(#b3)"/><ellipse cx="265.0" cy="722.0" rx="20.0" ry="15.0" fill="#363636" filter="url(#b4)"/><ellipse cx="333.0" cy="742.0" rx="16.0" ry="8.0" fill="#525252" filter="url(#b4)"/><ellipse cx="295.0" cy="736.0" rx="10.0" ry="6.0" fill="#555555" filter="url(#b3)"/><path d="M240.0,700.0C248.3,702.5 273.3,710.3 290.0,715.0C306.7,719.7 323.3,726.8 340.0,728.0C356.7,729.2 381.7,723.0 390.0,722.0" fill="none" stroke="#666666" stroke-width="20" stroke-linecap="round" stroke-linejoin="round" filter="url(#b6)"/><ellipse cx="682.6" cy="728.7" rx="2.3" ry="12.3" fill="#aaaaaa" transform="rotate(-24.843174538754578 682.6 728.7)" filter="url(#b1_8)"/><ellipse cx="717.7" cy="642.5" rx="2.3" ry="8.6" fill="#afafaf" transform="rotate(-19.140462549600947 717.7 642.5)" filter="url(#b1_8)"/><ellipse cx="588.6" cy="786.2" rx="2.3" ry="10.2" fill="#9e9e9e" transform="rotate(-15.356131584024435 588.6 786.2)" filter="url(#b1_8)"/><ellipse cx="815.8" cy="750.4" rx="2.3" ry="9.5" fill="#a1a1a1" transform="rotate(-34.6999852610079 815.8 750.4)" filter="url(#b1_8)"/><ellipse cx="685.6" cy="701.3" rx="2.3" ry="11.6" fill="#ababab" transform="rotate(-22.19416584161646 685.6 701.3)" filter="url(#b1_8)"/><ellipse cx="694.9" cy="752.4" rx="2.3" ry="8.1" fill="#a4a4a4" transform="rotate(-15.046875990738314 694.9 752.4)" filter="url(#b1_8)"/><ellipse cx="823.9" cy="793.2" rx="2.3" ry="10.4" fill="#a6a6a6" transform="rotate(-30.40668196784189 823.9 793.2)" filter="url(#b1_8)"/><ellipse cx="764.2" cy="692.1" rx="2.3" ry="11.6" fill="#a8a8a8" transform="rotate(-15.839152333603728 764.2 692.1)" filter="url(#b1_8)"/><ellipse cx="801.7" cy="708.1" rx="2.3" ry="12.8" fill="#a8a8a8" transform="rotate(-33.53923312332604 801.7 708.1)" filter="url(#b1_8)"/><ellipse cx="728.7" cy="779.1" rx="2.3" ry="6.4" fill="#9f9f9f" transform="rotate(-28.348287490733043 728.7 779.1)" filter="url(#b1_8)"/><ellipse cx="815.7" cy="774.3" rx="2.3" ry="5.1" fill="#a4a4a4" transform="rotate(-32.9790738208659 815.7 774.3)" filter="url(#b1_8)"/><ellipse cx="580.6" cy="783.3" rx="2.3" ry="5.6" fill="#adadad" transform="rotate(-26.05150244997957 580.6 783.3)" filter="url(#b1_8)"/><ellipse cx="614.6" cy="768.3" rx="2.3" ry="5.2" fill="#afafaf" transform="rotate(-32.66984024720589 614.6 768.3)" filter="url(#b1_8)"/><ellipse cx="635.1" cy="823.3" rx="2.3" ry="11.2" fill="#a5a5a5" transform="rotate(-17.302697745020584 635.1 823.3)" filter="url(#b1_8)"/><ellipse cx="787.1" cy="747.6" rx="2.3" ry="4.9" fill="#b9b9b9" transform="rotate(-30.73513262844955 787.1 747.6)" filter="url(#b1_8)"/><ellipse cx="632.2" cy="777.7" rx="2.3" ry="7.0" fill="#a5a5a5" transform="rotate(-33.53202893223152 632.2 777.7)" filter="url(#b1_8)"/><ellipse cx="588.4" cy="734.0" rx="2.3" ry="6.2" fill="#aeaeae" transform="rotate(-27.565919068135436 588.4 734.0)" filter="url(#b1_8)"/><ellipse cx="682.8" cy="820.6" rx="2.3" ry="8.4" fill="#adadad" transform="rotate(-17.669486643955555 682.8 820.6)" filter="url(#b1_8)"/><ellipse cx="801.2" cy="788.1" rx="2.3" ry="6.2" fill="#a2a2a2" transform="rotate(-20.211512203666974 801.2 788.1)" filter="url(#b1_8)"/><ellipse cx="809.5" cy="645.2" rx="2.3" ry="12.6" fill="#b6b6b6" transform="rotate(-22.92931570433113 809.5 645.2)" filter="url(#b1_8)"/><ellipse cx="575.1" cy="821.4" rx="2.3" ry="6.1" fill="#b1b1b1" transform="rotate(-29.860372033593762 575.1 821.4)" filter="url(#b1_8)"/><ellipse cx="779.2" cy="737.2" rx="2.3" ry="6.6" fill="#a1a1a1" transform="rotate(-20.59293344956961 779.2 737.2)" filter="url(#b1_8)"/><ellipse cx="710.4" cy="796.1" rx="2.3" ry="9.5" fill="#a4a4a4" transform="rotate(-16.6527964301485 710.4 796.1)" filter="url(#b1_8)"/><ellipse cx="635.0" cy="702.5" rx="2.3" ry="4.5" fill="#a1a1a1" transform="rotate(-27.624292592554745 635.0 702.5)" filter="url(#b1_8)"/><ellipse cx="796.6" cy="825.5" rx="2.3" ry="9.9" fill="#b0b0b0" transform="rotate(-23.311194636396422 796.6 825.5)" filter="url(#b1_8)"/><ellipse cx="569.7" cy="809.3" rx="2.3" ry="10.3" fill="#b8b8b8" transform="rotate(-34.57481643581797 569.7 809.3)" filter="url(#b1_8)"/><ellipse cx="730.4" cy="710.9" rx="2.3" ry="10.6" fill="#a6a6a6" transform="rotate(-15.012847472364893 730.4 710.9)" filter="url(#b1_8)"/><ellipse cx="584.6" cy="725.6" rx="2.3" ry="10.6" fill="#b6b6b6" transform="rotate(-20.2582373116688 584.6 725.6)" filter="url(#b1_8)"/><ellipse cx="748.0" cy="782.5" rx="2.3" ry="12.2" fill="#a7a7a7" transform="rotate(-21.29708089332604 748.0 782.5)" filter="url(#b1_8)"/><ellipse cx="799.2" cy="800.4" rx="2.3" ry="7.8" fill="#b3b3b3" transform="rotate(-17.730546519171348 799.2 800.4)" filter="url(#b1_8)"/><ellipse cx="713.9" cy="743.7" rx="2.3" ry="7.4" fill="#adadad" transform="rotate(-22.822661985121805 713.9 743.7)" filter="url(#b1_8)"/><ellipse cx="585.9" cy="747.1" rx="2.3" ry="12.9" fill="#b6b6b6" transform="rotate(-20.43585846868904 585.9 747.1)" filter="url(#b1_8)"/><ellipse cx="666.0" cy="769.1" rx="2.3" ry="9.2" fill="#a9a9a9" transform="rotate(-18.232599416188624 666.0 769.1)" filter="url(#b1_8)"/><ellipse cx="586.8" cy="772.5" rx="2.3" ry="4.3" fill="#aeaeae" transform="rotate(-25.38086369301518 586.8 772.5)" filter="url(#b1_8)"/><ellipse cx="624.9" cy="760.6" rx="2.3" ry="8.5" fill="#aeaeae" transform="rotate(-16.590714531198547 624.9 760.6)" filter="url(#b1_8)"/><ellipse cx="643.3" cy="756.0" rx="2.3" ry="5.8" fill="#a1a1a1" transform="rotate(-16.885568001490196 643.3 756.0)" filter="url(#b1_8)"/><ellipse cx="736.6" cy="701.6" rx="2.3" ry="12.0" fill="#a6a6a6" transform="rotate(-21.682018749326573 736.6 701.6)" filter="url(#b1_8)"/><ellipse cx="774.6" cy="810.3" rx="2.3" ry="11.9" fill="#a8a8a8" transform="rotate(-23.337856244921177 774.6 810.3)" filter="url(#b1_8)"/><ellipse cx="694.1" cy="792.5" rx="2.3" ry="11.6" fill="#b1b1b1" transform="rotate(-15.999996963089703 694.1 792.5)" filter="url(#b1_8)"/><ellipse cx="727.7" cy="713.6" rx="2.3" ry="6.8" fill="#b5b5b5" transform="rotate(-15.359269883516976 727.7 713.6)" filter="url(#b1_8)"/><ellipse cx="573.2" cy="800.8" rx="2.3" ry="4.4" fill="#b1b1b1" transform="rotate(-23.588360793260527 573.2 800.8)" filter="url(#b1_8)"/><ellipse cx="645.3" cy="782.0" rx="2.3" ry="4.2" fill="#a0a0a0" transform="rotate(-25.903351725650058 645.3 782.0)" filter="url(#b1_8)"/><ellipse cx="571.4" cy="790.8" rx="2.3" ry="6.1" fill="#a0a0a0" transform="rotate(-34.06114861607364 571.4 790.8)" filter="url(#b1_8)"/><ellipse cx="728.6" cy="702.7" rx="2.3" ry="9.7" fill="#afafaf" transform="rotate(-18.852301781075735 728.6 702.7)" filter="url(#b1_8)"/><ellipse cx="814.2" cy="757.4" rx="2.3" ry="5.8" fill="#aaaaaa" transform="rotate(-31.426278097298308 814.2 757.4)" filter="url(#b1_8)"/><ellipse cx="567.8" cy="708.6" rx="2.3" ry="10.4" fill="#a2a2a2" transform="rotate(-29.552901271196625 567.8 708.6)" filter="url(#b1_8)"/><ellipse cx="654.9" cy="760.4" rx="2.3" ry="8.7" fill="#aeaeae" transform="rotate(-19.875862872720905 654.9 760.4)" filter="url(#b1_8)"/><ellipse cx="667.3" cy="782.1" rx="2.3" ry="12.2" fill="#9f9f9f" transform="rotate(-16.34792344381675 667.3 782.1)" filter="url(#b1_8)"/><ellipse cx="727.6" cy="809.3" rx="2.3" ry="7.4" fill="#adadad" transform="rotate(-17.41358347197616 727.6 809.3)" filter="url(#b1_8)"/><ellipse cx="772.2" cy="817.2" rx="2.3" ry="8.2" fill="#afafaf" transform="rotate(-30.90211270764997 772.2 817.2)" filter="url(#b1_8)"/><ellipse cx="752.7" cy="788.2" rx="2.3" ry="9.8" fill="#b1b1b1" transform="rotate(-30.734068417207617 752.7 788.2)" filter="url(#b1_8)"/><ellipse cx="799.0" cy="825.5" rx="2.3" ry="12.8" fill="#acacac" transform="rotate(-19.18425739820752 799.0 825.5)" filter="url(#b1_8)"/><ellipse cx="648.3" cy="809.3" rx="2.3" ry="11.7" fill="#a6a6a6" transform="rotate(-33.3445483390786 648.3 809.3)" filter="url(#b1_8)"/><ellipse cx="679.6" cy="726.6" rx="2.3" ry="10.9" fill="#aaaaaa" transform="rotate(-34.43179276312969 679.6 726.6)" filter="url(#b1_8)"/><ellipse cx="775.4" cy="614.7" rx="2.3" ry="5.6" fill="#a6a6a6" transform="rotate(-19.241881681083555 775.4 614.7)" filter="url(#b1_8)"/><ellipse cx="699.3" cy="766.4" rx="2.3" ry="11.6" fill="#b0b0b0" transform="rotate(-16.08505206109006 699.3 766.4)" filter="url(#b1_8)"/><ellipse cx="693.1" cy="818.3" rx="2.3" ry="4.8" fill="#a3a3a3" transform="rotate(-24.466731912080206 693.1 818.3)" filter="url(#b1_8)"/><ellipse cx="640.4" cy="767.6" rx="2.3" ry="9.7" fill="#acacac" transform="rotate(-18.12753201913654 640.4 767.6)" filter="url(#b1_8)"/><ellipse cx="710.6" cy="671.7" rx="2.3" ry="7.4" fill="#b5b5b5" transform="rotate(-16.989499239707804 710.6 671.7)" filter="url(#b1_8)"/><ellipse cx="619.1" cy="795.7" rx="2.3" ry="12.7" fill="#acacac" transform="rotate(-23.540218398325504 619.1 795.7)" filter="url(#b1_8)"/><ellipse cx="617.3" cy="723.3" rx="2.3" ry="8.5" fill="#aeaeae" transform="rotate(-34.444889644038476 617.3 723.3)" filter="url(#b1_8)"/><ellipse cx="817.0" cy="718.7" rx="2.3" ry="7.6" fill="#b4b4b4" transform="rotate(-23.74266622633771 817.0 718.7)" filter="url(#b1_8)"/><ellipse cx="692.7" cy="758.9" rx="2.3" ry="4.6" fill="#acacac" transform="rotate(-26.724518251302396 692.7 758.9)" filter="url(#b1_8)"/><ellipse cx="813.8" cy="812.4" rx="2.3" ry="6.4" fill="#aaaaaa" transform="rotate(-32.46064821784484 813.8 812.4)" filter="url(#b1_8)"/><ellipse cx="677.8" cy="787.6" rx="2.3" ry="12.1" fill="#aaaaaa" transform="rotate(-28.65570707490837 677.8 787.6)" filter="url(#b1_8)"/><ellipse cx="614.8" cy="742.1" rx="2.3" ry="12.3" fill="#a0a0a0" transform="rotate(-19.414223137903168 614.8 742.1)" filter="url(#b1_8)"/><ellipse cx="624.1" cy="758.0" rx="2.3" ry="6.9" fill="#a7a7a7" transform="rotate(-22.604673281487422 624.1 758.0)" filter="url(#b1_8)"/><ellipse cx="592.3" cy="768.1" rx="2.3" ry="5.1" fill="#ababab" transform="rotate(-29.988927138195006 592.3 768.1)" filter="url(#b1_8)"/><ellipse cx="616.4" cy="722.0" rx="2.3" ry="7.9" fill="#a7a7a7" transform="rotate(-26.731959756436982 616.4 722.0)" filter="url(#b1_8)"/><ellipse cx="729.1" cy="746.8" rx="2.3" ry="8.8" fill="#b5b5b5" transform="rotate(-22.765777172648214 729.1 746.8)" filter="url(#b1_8)"/><ellipse cx="787.8" cy="653.5" rx="2.3" ry="10.7" fill="#b4b4b4" transform="rotate(-16.946449401805552 787.8 653.5)" filter="url(#b1_8)"/><ellipse cx="804.9" cy="650.2" rx="2.3" ry="13.0" fill="#b6b6b6" transform="rotate(-32.32135550842123 804.9 650.2)" filter="url(#b1_8)"/><ellipse cx="627.2" cy="767.1" rx="2.3" ry="6.3" fill="#9f9f9f" transform="rotate(-18.35662932080175 627.2 767.1)" filter="url(#b1_8)"/><ellipse cx="674.6" cy="781.7" rx="2.3" ry="5.1" fill="#a8a8a8" transform="rotate(-21.29570189135405 674.6 781.7)" filter="url(#b1_8)"/><ellipse cx="742.4" cy="809.6" rx="2.3" ry="12.7" fill="#a0a0a0" transform="rotate(-24.886381531557205 742.4 809.6)" filter="url(#b1_8)"/><ellipse cx="762.1" cy="715.6" rx="2.3" ry="10.2" fill="#a2a2a2" transform="rotate(-33.58895741670227 762.1 715.6)" filter="url(#b1_8)"/><ellipse cx="708.4" cy="718.4" rx="2.3" ry="9.1" fill="#a1a1a1" transform="rotate(-31.309274119891676 708.4 718.4)" filter="url(#b1_8)"/><ellipse cx="618.0" cy="793.2" rx="2.3" ry="12.9" fill="#b7b7b7" transform="rotate(-33.095071527394836 618.0 793.2)" filter="url(#b1_8)"/><ellipse cx="581.1" cy="818.8" rx="2.3" ry="8.2" fill="#b3b3b3" transform="rotate(-28.46345463530952 581.1 818.8)" filter="url(#b1_8)"/><ellipse cx="686.4" cy="718.5" rx="2.3" ry="7.9" fill="#aeaeae" transform="rotate(-34.7350799092641 686.4 718.5)" filter="url(#b1_8)"/><ellipse cx="747.3" cy="794.2" rx="2.3" ry="5.6" fill="#aaaaaa" transform="rotate(-20.213315282733166 747.3 794.2)" filter="url(#b1_8)"/><ellipse cx="607.9" cy="717.9" rx="2.3" ry="4.1" fill="#b6b6b6" transform="rotate(-18.96587672205175 607.9 717.9)" filter="url(#b1_8)"/><ellipse cx="748.2" cy="798.0" rx="2.3" ry="9.7" fill="#a8a8a8" transform="rotate(-23.00789711014214 748.2 798.0)" filter="url(#b1_8)"/><ellipse cx="696.1" cy="826.0" rx="2.3" ry="11.2" fill="#a4a4a4" transform="rotate(-16.774019432623085 696.1 826.0)" filter="url(#b1_8)"/><ellipse cx="758.6" cy="778.9" rx="2.3" ry="11.3" fill="#a8a8a8" transform="rotate(-17.069098602248623 758.6 778.9)" filter="url(#b1_8)"/><ellipse cx="793.8" cy="759.8" rx="2.3" ry="10.9" fill="#b3b3b3" transform="rotate(-26.88508984344769 793.8 759.8)" filter="url(#b1_8)"/><ellipse cx="731.1" cy="743.5" rx="2.3" ry="6.1" fill="#b8b8b8" transform="rotate(-21.678128644992952 731.1 743.5)" filter="url(#b1_8)"/><ellipse cx="652.8" cy="751.7" rx="2.3" ry="9.1" fill="#acacac" transform="rotate(-27.20811851103632 652.8 751.7)" filter="url(#b1_8)"/><ellipse cx="825.0" cy="747.7" rx="2.3" ry="10.3" fill="#b2b2b2" transform="rotate(-15.398265782756635 825.0 747.7)" filter="url(#b1_8)"/><ellipse cx="570.9" cy="741.5" rx="2.3" ry="10.6" fill="#a4a4a4" transform="rotate(-26.968886926060726 570.9 741.5)" filter="url(#b1_8)"/><ellipse cx="630.2" cy="808.3" rx="2.3" ry="9.0" fill="#ababab" transform="rotate(-15.657274347443174 630.2 808.3)" filter="url(#b1_8)"/><ellipse cx="712.7" cy="828.9" rx="2.3" ry="9.7" fill="#b4b4b4" transform="rotate(-33.476080216554465 712.7 828.9)" filter="url(#b1_8)"/><ellipse cx="720.4" cy="774.6" rx="2.3" ry="4.4" fill="#b7b7b7" transform="rotate(-31.801368536665667 720.4 774.6)" filter="url(#b1_8)"/><ellipse cx="723.9" cy="613.5" rx="2.3" ry="7.8" fill="#acacac" transform="rotate(-23.043359769523956 723.9 613.5)" filter="url(#b1_8)"/><ellipse cx="735.3" cy="728.9" rx="2.3" ry="6.6" fill="#b1b1b1" transform="rotate(-29.079190041592522 735.3 728.9)" filter="url(#b1_8)"/><ellipse cx="761.2" cy="689.7" rx="2.3" ry="12.1" fill="#b2b2b2" transform="rotate(-33.996835711338136 761.2 689.7)" filter="url(#b1_8)"/><ellipse cx="822.1" cy="817.2" rx="2.3" ry="4.7" fill="#b7b7b7" transform="rotate(-26.409685206543685 822.1 817.2)" filter="url(#b1_8)"/><ellipse cx="689.2" cy="823.8" rx="2.3" ry="6.2" fill="#acacac" transform="rotate(-16.254580943261324 689.2 823.8)" filter="url(#b1_8)"/><ellipse cx="752.9" cy="707.7" rx="2.3" ry="12.8" fill="#b4b4b4" transform="rotate(-22.927534176944782 752.9 707.7)" filter="url(#b1_8)"/><ellipse cx="594.9" cy="743.6" rx="2.3" ry="8.1" fill="#a2a2a2" transform="rotate(-33.95888591457947 594.9 743.6)" filter="url(#b1_8)"/><ellipse cx="738.7" cy="704.8" rx="2.3" ry="6.4" fill="#adadad" transform="rotate(-26.609363650676624 738.7 704.8)" filter="url(#b1_8)"/><ellipse cx="767.3" cy="722.1" rx="2.3" ry="13.0" fill="#b8b8b8" transform="rotate(-20.314305852521716 767.3 722.1)" filter="url(#b1_8)"/><ellipse cx="797.1" cy="780.4" rx="2.3" ry="9.6" fill="#a7a7a7" transform="rotate(-29.569763152329834 797.1 780.4)" filter="url(#b1_8)"/><ellipse cx="743.1" cy="729.9" rx="2.3" ry="9.3" fill="#afafaf" transform="rotate(-19.93300806888401 743.1 729.9)" filter="url(#b1_8)"/><ellipse cx="819.7" cy="810.6" rx="2.3" ry="11.9" fill="#9e9e9e" transform="rotate(-33.78426298357907 819.7 810.6)" filter="url(#b1_8)"/><ellipse cx="740.8" cy="726.6" rx="2.3" ry="9.7" fill="#a7a7a7" transform="rotate(-25.428889937088 740.8 726.6)" filter="url(#b1_8)"/><ellipse cx="758.7" cy="792.9" rx="2.3" ry="4.7" fill="#a0a0a0" transform="rotate(-18.8163398471412 758.7 792.9)" filter="url(#b1_8)"/></g>
</defs>
<rect width="1788" height="1690" fill="#fff"/>
<rect x="95.7" y="101.5" width="727.8" height="727.5" fill="#000"/><g clip-path="url(#axTL)"><g clip-path="url(#quad)"><g filter="url(#fTL)"><use href="#fld"/></g></g><text x="375" y="372" font-size="15" fill="#22a884" text-anchor="middle" transform="rotate(-30 375 372)" dy="5">−54</text><text x="470" y="390" font-size="15" fill="#2a788e" text-anchor="middle" transform="rotate(-5 470 390)" dy="5">−64</text><text x="475" y="523" font-size="15" fill="#2a788e" text-anchor="middle" transform="rotate(8 475 523)" dy="5">−64</text><text x="424" y="623" font-size="15" fill="#2a788e" text-anchor="middle" transform="rotate(-58 424 623)" dy="5">−64</text><text x="328" y="668" font-size="15" fill="#22a884" text-anchor="middle" transform="rotate(28 328 668)" dy="5">−54</text><text x="248" y="642" font-size="15" fill="#fde725" text-anchor="middle" transform="rotate(35 248 642)" dy="5">−31</text><text x="508" y="640" font-size="15" fill="#fde725" text-anchor="middle" transform="rotate(-80 508 640)" dy="5">−31</text><text x="573" y="662" font-size="15" fill="#22a884" text-anchor="middle" transform="rotate(-62 573 662)" dy="5">−54</text><text x="707" y="330" font-size="15" fill="#fde725" text-anchor="middle" transform="rotate(-12 707 330)" dy="5">−31</text><text x="590" y="298" font-size="15" fill="#fde725" text-anchor="middle" transform="rotate(25 590 298)" dy="5">−31</text><text x="368" y="580" font-size="15" fill="#414487" text-anchor="middle" transform="rotate(-20 368 580)" dy="5">−75</text><text x="540" y="745" font-size="15" fill="#7ad151" text-anchor="middle" transform="rotate(-50 540 745)" dy="5">−42</text><text x="455" y="822" font-size="15" fill="#fde725" text-anchor="middle" transform="rotate(-20 455 822)" dy="5">−31</text><text x="775" y="216" font-size="15" fill="#22a884" text-anchor="middle" transform="rotate(25 775 216)" dy="5">−54</text><g fill="none" stroke="#fff" stroke-width="1.7" stroke-linejoin="round"><path d="M272.0,570.7C272.4,569.9 274.8,568.3 276.9,567.1C278.9,565.9 282.1,564.4 284.1,563.4C286.2,562.5 288.4,561.3 289.0,561.5C289.6,561.7 289.2,563.4 287.8,564.6C286.4,565.9 282.7,567.6 280.5,568.8C278.3,570.0 275.9,571.6 274.4,571.9C273.0,572.2 271.6,571.5 272.0,570.7Z"/><path d="M275.2,578.0C275.5,576.7 279.1,574.5 280.5,574.3C281.9,574.1 283.3,575.4 283.7,576.8C284.1,578.1 283.8,581.5 282.9,582.4C282.1,583.2 279.9,582.6 278.6,581.9C277.3,581.1 274.8,579.2 275.2,578.0Z"/><path d="M293.8,589.6C294.0,589.1 296.6,588.5 297.5,588.7C298.4,588.8 299.4,590.0 299.2,590.6C299.0,591.2 297.2,592.2 296.3,592.1C295.4,591.9 293.6,590.2 293.8,589.6Z"/><path d="M284.9,618.7C285.2,618.4 286.8,619.1 287.3,619.7C287.8,620.3 288.1,621.8 287.8,622.1C287.5,622.5 286.1,622.2 285.6,621.7C285.1,621.1 284.6,619.1 284.9,618.7Z"/><path d="M293.8,628.9C294.0,627.6 296.1,625.7 297.5,625.5C298.9,625.3 300.8,626.4 302.3,627.7C303.9,629.0 305.4,631.6 306.7,633.3C308.0,635.0 309.7,636.6 310.1,637.7C310.5,638.7 309.8,639.5 309.1,639.6C308.4,639.7 307.3,638.9 306.0,638.2C304.6,637.4 302.7,635.8 301.1,635.0C299.5,634.2 297.5,634.3 296.3,633.3C295.1,632.3 293.6,630.2 293.8,628.9Z"/><path d="M365.9,604.7C366.5,603.4 368.7,602.9 370.3,603.2C371.8,603.5 374.0,605.0 375.1,606.6C376.2,608.3 377.3,611.5 377.1,613.2C376.9,614.9 375.2,616.5 373.9,616.8C372.6,617.1 370.3,615.9 369.1,614.9C367.8,613.9 367.2,612.4 366.6,610.7C366.1,609.0 365.3,605.9 365.9,604.7Z"/><path d="M364.9,647.1C365.5,645.2 367.6,643.9 369.1,643.5C370.5,643.1 372.4,644.7 373.9,644.7C375.4,644.7 376.8,642.9 378.0,643.5C379.3,644.1 381.1,646.5 381.4,648.3C381.7,650.2 381.0,653.0 380.0,654.4C378.9,655.8 376.7,656.8 375.1,656.8C373.5,656.8 371.8,654.7 370.3,654.4C368.7,654.1 366.8,656.3 365.9,655.1C365.0,653.9 364.4,649.1 364.9,647.1Z"/><path d="M341.2,670.2C341.9,669.2 343.9,668.4 344.8,669.0C345.7,669.6 346.5,672.1 346.7,673.8C346.9,675.6 346.9,678.5 346.0,679.4C345.2,680.3 342.6,680.2 341.6,679.4C340.7,678.6 340.3,676.1 340.2,674.5C340.1,673.0 340.4,671.1 341.2,670.2Z"/><path d="M372.7,704.1C373.8,702.9 376.0,701.8 378.0,701.7C380.0,701.6 383.1,702.4 384.8,703.7C386.6,704.9 387.7,706.9 388.5,709.0C389.3,711.1 389.8,713.6 389.7,716.3C389.6,718.9 388.5,722.3 387.7,724.8C386.9,727.2 386.1,729.6 384.8,730.8C383.5,732.0 381.4,733.0 380.0,732.0C378.6,731.0 377.5,727.4 376.3,724.8C375.2,722.1 374.0,718.9 373.2,716.3C372.4,713.6 371.6,711.0 371.5,709.0C371.4,707.0 371.6,705.4 372.7,704.1Z"/><path d="M390.2,709.0C390.0,707.0 392.0,703.9 392.1,701.7C392.2,699.5 390.3,697.3 390.9,695.6C391.5,693.9 394.1,691.7 395.7,691.5C397.4,691.3 399.6,692.9 400.6,694.4C401.6,695.9 400.8,698.9 401.8,700.5C402.8,702.1 404.8,703.1 406.7,704.1C408.5,705.1 410.9,705.6 412.7,706.6C414.5,707.6 418.2,709.4 417.6,710.2C417.0,711.0 411.9,710.9 409.1,711.4C406.3,711.9 403.2,713.0 400.6,713.4C398.0,713.8 395.1,714.6 393.3,713.8C391.6,713.1 390.4,711.0 390.2,709.0Z"/><path d="M422.4,706.1C423.2,705.4 427.2,703.5 428.5,703.2C429.8,702.8 431.2,703.4 430.4,704.1C429.7,704.9 425.5,707.2 424.1,707.5C422.8,707.9 421.7,706.8 422.4,706.1Z"/><path d="M383.6,738.6C384.2,738.2 387.0,737.5 387.7,737.6C388.5,737.7 388.8,738.7 388.2,739.1C387.7,739.5 385.1,740.1 384.3,740.0C383.6,740.0 383.0,739.0 383.6,738.6Z"/><path d="M395.7,756.3C396.7,755.1 398.8,754.5 400.6,755.1C402.4,755.7 405.0,757.5 406.7,759.9C408.3,762.4 409.6,766.4 410.3,769.6C411.0,772.9 411.6,776.5 411.0,779.3C410.4,782.2 408.0,785.6 406.7,786.6C405.3,787.6 404.0,787.0 403.0,785.4C402.0,783.8 401.6,779.5 400.6,776.9C399.6,774.3 398.0,772.1 397.0,769.6C395.9,767.2 394.7,764.6 394.5,762.4C394.3,760.1 394.7,757.5 395.7,756.3Z"/><path d="M412.7,813.3C413.3,812.0 415.8,810.7 417.6,810.4C419.4,810.1 421.4,810.5 423.6,811.4C425.9,812.3 428.7,814.6 430.9,815.7C433.1,816.9 436.2,817.2 437.0,818.2C437.8,819.2 435.6,820.2 435.8,821.8C436.0,823.4 438.6,826.0 438.2,827.9C437.8,829.7 435.8,831.9 433.3,832.7C430.9,833.5 426.3,834.1 423.6,832.7C421.0,831.3 419.2,826.7 417.6,824.2C416.0,821.8 414.7,820.0 413.9,818.2C413.1,816.3 412.1,814.6 412.7,813.3Z"/><circle cx="314.0" cy="645.4" r="3.9"/><circle cx="410.3" cy="733.3" r="4.8"/><circle cx="266.7" cy="610.3" r="0.8" fill="#fff"/><circle cx="331.4" cy="660.5" r="0.8" fill="#fff"/><circle cx="252.6" cy="539.7" r="0.8" fill="#fff"/><path d="M97.0,575.2L108.8,570.5L118.8,572.8L113.5,575.2L102.9,577.5L97.3,576.9Z"/><path d="M113.5,558.1L117.6,558.1L121.1,560.5L118.2,562.8L115.3,560.5Z"/><path d="M135.2,557.6L141.7,555.0L147.6,557.0L150.5,559.9L146.4,561.3L140.5,559.7Z"/><path d="M152.8,558.7L158.1,555.8L162.8,551.7L172.2,548.7L174.0,551.7L167.5,553.4L162.8,556.4L160.5,561.1L154.0,560.5Z"/><path d="M154.6,550.5L158.7,550.5L158.1,551.7L155.2,551.7Z"/><path d="M166.9,557.0L170.5,557.6L169.9,558.7Z"/><path d="M178.7,551.1L181.6,545.8L188.1,545.8L184.0,549.3Z"/><path d="M181.0,528.8L189.8,528.8L192.2,532.9L186.3,531.7L182.2,530.5Z"/><path d="M145.8,606.9L147.0,599.6L154.6,598.4L160.5,600.8L171.0,600.8L165.2,603.4L158.1,605.5Z"/></g><g stroke="#fff" stroke-width="2.1" stroke-dasharray="2.1 3.4" fill="none"><line x1="211.0" y1="101.5" x2="211.0" y2="829.0"/><line x1="356.5" y1="101.5" x2="356.5" y2="829.0"/><line x1="502.0" y1="101.5" x2="502.0" y2="829.0"/><line x1="647.5" y1="101.5" x2="647.5" y2="829.0"/><line x1="793.0" y1="101.5" x2="793.0" y2="829.0"/><line x1="95.7" y1="147.0" x2="823.5" y2="147.0"/><line x1="95.7" y1="292.5" x2="823.5" y2="292.5"/><line x1="95.7" y1="438.0" x2="823.5" y2="438.0"/><line x1="95.7" y1="583.5" x2="823.5" y2="583.5"/><line x1="95.7" y1="729.0" x2="823.5" y2="729.0"/></g><rect x="421.8" y="429.2" width="73.2" height="72.2" fill="#ff0000" fill-opacity="0.4"/><polyline points="96.0,334.5 213.0,376.7 355.2,420.3 495.7,457.8 540.0,473.0 605.0,482.0" fill="none" stroke="#0000ff" stroke-width="2.9" stroke-linejoin="round" stroke-dasharray="2.9 4.7"/><path d="M510.2,463.1L517.4,470.3M510.2,470.3L517.4,463.1" stroke="#00bfbf" stroke-width="2.4" fill="none"/><path d="M515.1,466.8L522.3,474.0M515.1,474.0L522.3,466.8" stroke="#00bfbf" stroke-width="2.4" fill="none"/><path d="M520.1,465.8L527.3,473.0M520.1,473.0L527.3,465.8" stroke="#00bfbf" stroke-width="2.4" fill="none"/><path d="M525.0,469.5L532.2,476.7M525.0,476.7L532.2,469.5" stroke="#00bfbf" stroke-width="2.4" fill="none"/><path d="M530.0,468.5L537.2,475.7M530.0,475.7L537.2,468.5" stroke="#00bfbf" stroke-width="2.4" fill="none"/><path d="M534.9,472.2L542.1,479.4M534.9,479.4L542.1,472.2" stroke="#00bfbf" stroke-width="2.4" fill="none"/><path d="M539.9,471.2L547.1,478.4M539.9,478.4L547.1,471.2" stroke="#00bfbf" stroke-width="2.4" fill="none"/><path d="M544.8,474.9L552.0,482.1M544.8,482.1L552.0,474.9" stroke="#00bfbf" stroke-width="2.4" fill="none"/><path d="M544.8,472.5L552.0,479.7M544.8,479.7L552.0,472.5" stroke="#00bfbf" stroke-width="2.4" fill="none"/><path d="M549.4,476.5L556.6,483.7M549.4,483.7L556.6,476.5" stroke="#00bfbf" stroke-width="2.4" fill="none"/><path d="M554.0,475.8L561.2,483.0M554.0,483.0L561.2,475.8" stroke="#00bfbf" stroke-width="2.4" fill="none"/><path d="M558.5,479.8L565.8,487.0M558.5,487.0L565.8,479.8" stroke="#00bfbf" stroke-width="2.4" fill="none"/><path d="M563.1,479.0L570.3,486.2M563.1,486.2L570.3,479.0" stroke="#00bfbf" stroke-width="2.4" fill="none"/><path d="M567.7,483.0L574.9,490.2M567.7,490.2L574.9,483.0" stroke="#00bfbf" stroke-width="2.4" fill="none"/><path d="M572.3,482.2L579.5,489.5M572.3,489.5L579.5,482.2" stroke="#00bfbf" stroke-width="2.4" fill="none"/><path d="M576.9,486.3L584.1,493.5M576.9,493.5L584.1,486.3" stroke="#00bfbf" stroke-width="2.4" fill="none"/><path d="M581.5,485.5L588.7,492.7M581.5,492.7L588.7,485.5" stroke="#00bfbf" stroke-width="2.4" fill="none"/><path d="M586.0,489.5L593.2,496.7M586.0,496.7L593.2,489.5" stroke="#00bfbf" stroke-width="2.4" fill="none"/><path d="M590.6,488.8L597.8,496.0M590.6,496.0L597.8,488.8" stroke="#00bfbf" stroke-width="2.4" fill="none"/><path d="M595.2,492.8L602.4,500.0M595.2,500.0L602.4,492.8" stroke="#00bfbf" stroke-width="2.4" fill="none"/><path d="M599.8,492.0L607.0,499.2M599.8,499.2L607.0,492.0" stroke="#00bfbf" stroke-width="2.4" fill="none"/><path d="M599.8,494.4L607.0,501.6M599.8,501.6L607.0,494.4" stroke="#00bfbf" stroke-width="2.4" fill="none"/><path d="M604.9,493.3L612.1,500.5M604.9,500.5L612.1,493.3" stroke="#00bfbf" stroke-width="2.4" fill="none"/><path d="M610.0,497.0L617.2,504.2M610.0,504.2L617.2,497.0" stroke="#00bfbf" stroke-width="2.4" fill="none"/><path d="M615.1,495.8L622.3,503.0M615.1,503.0L622.3,495.8" stroke="#00bfbf" stroke-width="2.4" fill="none"/><path d="M620.2,499.5L627.4,506.7M620.2,506.7L627.4,499.5" stroke="#00bfbf" stroke-width="2.4" fill="none"/><path d="M625.3,498.4L632.5,505.6M625.3,505.6L632.5,498.4" stroke="#00bfbf" stroke-width="2.4" fill="none"/><path d="M630.4,502.1L637.6,509.3M630.4,509.3L637.6,502.1" stroke="#00bfbf" stroke-width="2.4" fill="none"/><path d="M635.5,500.9L642.7,508.1M635.5,508.1L642.7,500.9" stroke="#00bfbf" stroke-width="2.4" fill="none"/><path d="M640.6,504.6L647.8,511.8M640.6,511.8L647.8,504.6" stroke="#00bfbf" stroke-width="2.4" fill="none"/><path d="M645.7,503.5L652.9,510.7M645.7,510.7L652.9,503.5" stroke="#00bfbf" stroke-width="2.4" fill="none"/><path d="M697.3,488.7L704.5,495.9M697.3,495.9L704.5,488.7" stroke="#00bfbf" stroke-width="2.4" fill="none"/><path d="M665.2,506.9L672.4,514.1M665.2,514.1L672.4,506.9" stroke="#00bfbf" stroke-width="2.4" fill="none"/><path d="M670.2,511.2L677.4,518.4M670.2,518.4L677.4,511.2" stroke="#00bfbf" stroke-width="2.4" fill="none"/><path d="M675.1,510.8L682.3,518.0M675.1,518.0L682.3,510.8" stroke="#00bfbf" stroke-width="2.4" fill="none"/><path d="M680.1,515.1L687.3,522.3M680.1,522.3L687.3,515.1" stroke="#00bfbf" stroke-width="2.4" fill="none"/><path d="M680.1,512.7L687.3,519.9M680.1,519.9L687.3,512.7" stroke="#00bfbf" stroke-width="2.4" fill="none"/><path d="M681.5,520.5L688.7,527.7M681.5,527.7L688.7,520.5" stroke="#00bfbf" stroke-width="2.4" fill="none"/><path d="M682.9,523.5L690.1,530.8M682.9,530.8L690.1,523.5" stroke="#00bfbf" stroke-width="2.4" fill="none"/><path d="M684.4,531.4L691.6,538.6M684.4,538.6L691.6,531.4" stroke="#00bfbf" stroke-width="2.4" fill="none"/><path d="M685.8,534.4L693.0,541.6M685.8,541.6L693.0,534.4" stroke="#00bfbf" stroke-width="2.4" fill="none"/><path d="M685.8,536.8L693.0,544.0M685.8,544.0L693.0,536.8" stroke="#00bfbf" stroke-width="2.4" fill="none"/><path d="M691.1,535.8L698.3,543.0M691.1,543.0L698.3,535.8" stroke="#00bfbf" stroke-width="2.4" fill="none"/><path d="M696.4,539.6L703.6,546.8M696.4,546.8L703.6,539.6" stroke="#00bfbf" stroke-width="2.4" fill="none"/><path d="M701.6,538.5L708.8,545.7M701.6,545.7L708.8,538.5" stroke="#00bfbf" stroke-width="2.4" fill="none"/><path d="M706.9,542.3L714.1,549.5M706.9,549.5L714.1,542.3" stroke="#00bfbf" stroke-width="2.4" fill="none"/><path d="M712.2,541.3L719.4,548.5M712.2,548.5L719.4,541.3" stroke="#00bfbf" stroke-width="2.4" fill="none"/><path d="M712.2,543.7L719.4,550.9M712.2,550.9L719.4,543.7" stroke="#00bfbf" stroke-width="2.4" fill="none"/><path d="M716.9,542.8L724.1,550.0M716.9,550.0L724.1,542.8" stroke="#00bfbf" stroke-width="2.4" fill="none"/><path d="M721.7,546.8L728.9,554.0M721.7,554.0L728.9,546.8" stroke="#00bfbf" stroke-width="2.4" fill="none"/><path d="M726.4,545.9L733.6,553.1M726.4,553.1L733.6,545.9" stroke="#00bfbf" stroke-width="2.4" fill="none"/><path d="M731.2,549.8L738.4,557.0M731.2,557.0L738.4,549.8" stroke="#00bfbf" stroke-width="2.4" fill="none"/><path d="M735.9,548.9L743.1,556.1M735.9,556.1L743.1,548.9" stroke="#00bfbf" stroke-width="2.4" fill="none"/><path d="M740.6,552.9L747.8,560.1M740.6,560.1L747.8,552.9" stroke="#00bfbf" stroke-width="2.4" fill="none"/><path d="M745.4,552.0L752.6,559.2M745.4,559.2L752.6,552.0" stroke="#00bfbf" stroke-width="2.4" fill="none"/><path d="M750.1,555.9L757.3,563.1M750.1,563.1L757.3,555.9" stroke="#00bfbf" stroke-width="2.4" fill="none"/><path d="M754.9,555.0L762.1,562.2M754.9,562.2L762.1,555.0" stroke="#00bfbf" stroke-width="2.4" fill="none"/><path d="M759.6,559.0L766.8,566.2M759.6,566.2L766.8,559.0" stroke="#00bfbf" stroke-width="2.4" fill="none"/><path d="M764.3,558.1L771.5,565.3M764.3,565.3L771.5,558.1" stroke="#00bfbf" stroke-width="2.4" fill="none"/><path d="M769.1,562.0L776.3,569.2M769.1,569.2L776.3,562.0" stroke="#00bfbf" stroke-width="2.4" fill="none"/><path d="M773.8,561.1L781.0,568.3M773.8,568.3L781.0,561.1" stroke="#00bfbf" stroke-width="2.4" fill="none"/><path d="M778.6,565.1L785.8,572.3M778.6,572.3L785.8,565.1" stroke="#00bfbf" stroke-width="2.4" fill="none"/><path d="M783.3,564.2L790.5,571.4M783.3,571.4L790.5,564.2" stroke="#00bfbf" stroke-width="2.4" fill="none"/><path d="M783.3,566.6L790.5,573.8M783.3,573.8L790.5,566.6" stroke="#00bfbf" stroke-width="2.4" fill="none"/><path d="M788.5,565.1L795.7,572.3M788.5,572.3L795.7,565.1" stroke="#00bfbf" stroke-width="2.4" fill="none"/><path d="M793.6,568.4L800.8,575.6M793.6,575.6L800.8,568.4" stroke="#00bfbf" stroke-width="2.4" fill="none"/><path d="M798.8,566.9L806.0,574.1M798.8,574.1L806.0,566.9" stroke="#00bfbf" stroke-width="2.4" fill="none"/><path d="M803.9,570.1L811.1,577.3M803.9,577.3L811.1,570.1" stroke="#00bfbf" stroke-width="2.4" fill="none"/><path d="M809.1,568.6L816.3,575.8M809.1,575.8L816.3,568.6" stroke="#00bfbf" stroke-width="2.4" fill="none"/><path d="M814.2,571.9L821.4,579.1M814.2,579.1L821.4,571.9" stroke="#00bfbf" stroke-width="2.4" fill="none"/><path d="M819.4,570.4L826.6,577.6M819.4,577.6L826.6,570.4" stroke="#00bfbf" stroke-width="2.4" fill="none"/><rect x="561.9" y="486.2" width="8.8" height="8.8" fill="#bf00bf"/><rect x="658.6" y="502.3" width="8.8" height="8.8" fill="#bf00bf"/><rect x="678.2" y="494.7" width="8.8" height="8.8" fill="#bf00bf"/><rect x="741.6" y="544.0" width="8.8" height="8.8" fill="#bf00bf"/><rect x="816.6" y="575.0" width="8.8" height="8.8" fill="#bf00bf"/><polyline points="479.2,458.5 548.4,477.3 603.4,496.8 649.3,508.3 700.9,491.1 668.8,511.7 683.7,517.5 689.4,539.2 715.8,546.1 786.9,569.0 823.0,575.2" fill="none" stroke="#008000" stroke-width="2.9" stroke-linejoin="round" /><polyline points="473.4,467.5 605.3,482.4 736.4,532.4 840.0,583.0" fill="none" stroke="#0000ff" stroke-width="2.7" stroke-linejoin="round" /><circle cx="473.4" cy="467.5" r="4.0" fill="#0000ff"/><circle cx="605.3" cy="482.4" r="4.0" fill="#0000ff"/><circle cx="736.4" cy="532.4" r="4.0" fill="#0000ff"/><polyline points="457.8,465.4 465.0,463.2 472.7,458.5 536.9,474.3 536.9,455.5 585.6,474.3 603.4,497.5 678.0,516.3 680.3,507.1 721.5,525.5 717.0,549.6 784.6,566.8 784.8,564.3 823.0,576.3" fill="none" stroke="#ff0000" stroke-width="3.5" stroke-linejoin="round" /><path d="M612.7,519.8L621.7,528.8M612.7,528.8L621.7,519.8" stroke="#ff0000" stroke-width="3.4" fill="none"/><ellipse cx="454.6" cy="460" rx="7.6" ry="6.3" fill="none" stroke="#22a884" stroke-width="1.8"/><ellipse cx="454.8" cy="460" rx="5.6" ry="4.4" fill="#fde725" stroke="#7ad151" stroke-width="1.6"/><rect x="424.5" y="108.5" width="392.5" height="188.5" rx="5" ry="5" fill="#fff" fill-opacity="0.8" stroke="#ccc" stroke-opacity="0.8" stroke-width="2.2"/><rect x="442.9" y="118.0" width="8.8" height="8.8" fill="#bf00bf"/><text x="475.5" y="127.7" font-size="15.63" text-anchor="start" font-weight="normal" fill="#000" >AMSU Locations [NOAA15/1053Z 50 1001]</text><rect x="442.9" y="140.7" width="8.8" height="8.8" fill="#bf00bf"/><text x="475.5" y="150.4" font-size="15.63" text-anchor="start" font-weight="normal" fill="#000" >ARCHER Locations [0103Z]</text><path d="M444.0,164.2L451.0,171.2M444.0,171.2L451.0,164.2" stroke="#00bfbf" stroke-width="2.9" fill="none"/><text x="475.5" y="173.0" font-size="15.63" text-anchor="start" font-weight="normal" fill="#000" >SATCON Locations [0410Z 79 979]</text><polyline points="431.0,190.1 465.0,190.1" fill="none" stroke="#008000" stroke-width="3.0" stroke-linejoin="round" /><text x="475.5" y="195.7" font-size="15.63" text-anchor="start" font-weight="normal" fill="#000" >ADT Tracks [0610Z 82.2 973.6]</text><polyline points="431.0,212.8 465.0,212.8" fill="none" stroke="#0000ff" stroke-width="2.9" stroke-linejoin="round" stroke-dasharray="2.9 4.7"/><text x="475.5" y="218.4" font-size="15.63" text-anchor="start" font-weight="normal" fill="#000" >JTWC/NHC Forecast [16/0000Z]</text><polyline points="431.0,235.4 465.0,235.4" fill="none" stroke="#0000ff" stroke-width="2.7" stroke-linejoin="round" /><circle cx="447.7" cy="235.4" r="4.0" fill="#0000ff"/><text x="475.5" y="241.0" font-size="15.63" text-anchor="start" font-weight="normal" fill="#000" >JTWC/NHC Tracks [16/0600Z]</text><path d="M443.0,253.9L452.0,262.9M443.0,262.9L452.0,253.9" stroke="#ff0000" stroke-width="3.4" fill="none"/><text x="475.5" y="263.7" font-size="15.63" text-anchor="start" font-weight="normal" fill="#000" >MESOSCALE/TARGET Location</text><polyline points="431.0,280.8 465.0,280.8" fill="none" stroke="#ff0000" stroke-width="3.6" stroke-linejoin="round" /><text x="475.5" y="286.4" font-size="15.63" text-anchor="start" font-weight="normal" fill="#000" >Floater Locater</text></g><rect x="95.7" y="101.5" width="727.8" height="727.5" fill="none" stroke="#000" stroke-width="3"/><rect x="93.3" y="804" width="313.2" height="27" rx="4" fill="#000"/><text x="97.8" y="822.3" font-size="17.48" text-anchor="start" font-weight="bold" fill="#fff" >Copyright © 2020-2025 Dapiya</text><text x="87.7" y="151.2" font-size="13.9" text-anchor="end" font-weight="normal" fill="#000" >24°N</text><text x="87.7" y="296.7" font-size="13.9" text-anchor="end" font-weight="normal" fill="#000" >22°N</text><text x="87.7" y="442.2" font-size="13.9" text-anchor="end" font-weight="normal" fill="#000" >20°N</text><text x="87.7" y="587.7" font-size="13.9" text-anchor="end" font-weight="normal" fill="#000" >18°N</text><text x="87.7" y="733.2" font-size="13.9" text-anchor="end" font-weight="normal" fill="#000" >16°N</text><text x="211.0" y="850.8" font-size="13.9" text-anchor="middle" font-weight="normal" fill="#000" >64°W</text><text x="356.5" y="850.8" font-size="13.9" text-anchor="middle" font-weight="normal" fill="#000" >62°W</text><text x="502.0" y="850.8" font-size="13.9" text-anchor="middle" font-weight="normal" fill="#000" >60°W</text><text x="647.5" y="850.8" font-size="13.9" text-anchor="middle" font-weight="normal" fill="#000" >58°W</text><text x="793.0" y="850.8" font-size="13.9" text-anchor="middle" font-weight="normal" fill="#000" >56°W</text><rect x="830.5" y="101.5" width="15.2" height="727.5" fill="url(#cbTL)" stroke="#000" stroke-width="1.1"/><text x="852.6" y="161.3" font-size="16.67" text-anchor="start" font-weight="normal" fill="#000" >40</text><text x="852.6" y="215.2" font-size="16.67" text-anchor="start" font-weight="normal" fill="#000" >30</text><text x="852.6" y="269.2" font-size="16.67" text-anchor="start" font-weight="normal" fill="#000" >20</text><text x="852.6" y="323.2" font-size="16.67" text-anchor="start" font-weight="normal" fill="#000" >10</text><text x="852.6" y="377.1" font-size="16.67" text-anchor="start" font-weight="normal" fill="#000" >0</text><text x="852.6" y="431.1" font-size="16.67" text-anchor="start" font-weight="normal" fill="#000" >−10</text><text x="852.6" y="485.1" font-size="16.67" text-anchor="start" font-weight="normal" fill="#000" >−20</text><text x="852.6" y="539.1" font-size="16.67" text-anchor="start" font-weight="normal" fill="#000" >−30</text><text x="852.6" y="593.0" font-size="16.67" text-anchor="start" font-weight="normal" fill="#000" >−40</text><text x="852.6" y="647.0" font-size="16.67" text-anchor="start" font-weight="normal" fill="#000" >−50</text><text x="852.6" y="701.0" font-size="16.67" text-anchor="start" font-weight="normal" fill="#000" >−60</text><text x="852.6" y="754.9" font-size="16.67" text-anchor="start" font-weight="normal" fill="#000" >−70</text><text x="852.6" y="808.9" font-size="16.67" text-anchor="start" font-weight="normal" fill="#000" >−80</text><text x="839.1" y="94.0" font-size="16.67" text-anchor="start" font-weight="normal" fill="#000" >°C</text>
<g transform="translate(875.0,0)"><rect x="95.7" y="101.5" width="727.8" height="727.5" fill="#fff"/><g clip-path="url(#axTL)"><g clip-path="url(#quad)"><g filter="url(#fTR)"><use href="#fld"/><ellipse cx="538.0" cy="595.0" rx="27.0" ry="80.0" fill="#5e5e5e" filter="url(#b8)"/><ellipse cx="300.0" cy="700.0" rx="90.0" ry="40.0" fill="#636363" filter="url(#b14)" opacity="0.7"/><ellipse cx="270.0" cy="470.0" rx="40.0" ry="35.0" fill="#666666" filter="url(#b12)" opacity="0.7"/><ellipse cx="463.0" cy="452.0" rx="100.0" ry="80.0" fill="#323232" filter="url(#b8)"/><path d="M300.0,500.0C308.3,500.8 333.3,503.0 350.0,505.0C366.7,507.0 384.2,508.2 400.0,512.0C415.8,515.8 430.0,522.0 445.0,528.0C460.0,534.0 477.5,542.7 490.0,548.0C502.5,553.3 515.0,558.0 520.0,560.0" fill="none" stroke="#444444" stroke-width="20" stroke-linecap="round" stroke-linejoin="round" filter="url(#b7)"/><ellipse cx="456.4" cy="459.2" rx="40.0" ry="36.0" fill="#2c2c2c" filter="url(#b8)"/><path d="M372.0,436.0C376.0,430.0 387.7,410.7 396.0,400.0C404.3,389.3 413.0,378.3 422.0,372.0C431.0,365.7 445.3,363.7 450.0,362.0" fill="none" stroke="#525252" stroke-width="17" stroke-linecap="round" stroke-linejoin="round" filter="url(#b5)"/><path d="M450.0,360.0C457.5,359.0 480.0,355.0 495.0,354.0C510.0,353.0 532.5,354.0 540.0,354.0" fill="none" stroke="#777777" stroke-width="10" stroke-linecap="round" stroke-linejoin="round" filter="url(#b4)" opacity="0.85"/><ellipse cx="682.6" cy="728.7" rx="2.8" ry="12.3" fill="#818181" transform="rotate(-24.843174538754578 682.6 728.7)" filter="url(#b1_8)"/><ellipse cx="717.7" cy="642.5" rx="2.8" ry="8.6" fill="#868686" transform="rotate(-19.140462549600947 717.7 642.5)" filter="url(#b1_8)"/><ellipse cx="588.6" cy="786.2" rx="2.8" ry="10.2" fill="#757575" transform="rotate(-15.356131584024435 588.6 786.2)" filter="url(#b1_8)"/><ellipse cx="815.8" cy="750.4" rx="2.8" ry="9.5" fill="#787878" transform="rotate(-34.6999852610079 815.8 750.4)" filter="url(#b1_8)"/><ellipse cx="685.6" cy="701.3" rx="2.8" ry="11.6" fill="#838383" transform="rotate(-22.19416584161646 685.6 701.3)" filter="url(#b1_8)"/><ellipse cx="694.9" cy="752.4" rx="2.8" ry="8.1" fill="#7c7c7c" transform="rotate(-15.046875990738314 694.9 752.4)" filter="url(#b1_8)"/><ellipse cx="823.9" cy="793.2" rx="2.8" ry="10.4" fill="#7d7d7d" transform="rotate(-30.40668196784189 823.9 793.2)" filter="url(#b1_8)"/><ellipse cx="764.2" cy="692.1" rx="2.8" ry="11.6" fill="#7f7f7f" transform="rotate(-15.839152333603728 764.2 692.1)" filter="url(#b1_8)"/><ellipse cx="801.7" cy="708.1" rx="2.8" ry="12.8" fill="#7f7f7f" transform="rotate(-33.53923312332604 801.7 708.1)" filter="url(#b1_8)"/><ellipse cx="728.7" cy="779.1" rx="2.8" ry="6.4" fill="#767676" transform="rotate(-28.348287490733043 728.7 779.1)" filter="url(#b1_8)"/><ellipse cx="815.7" cy="774.3" rx="2.8" ry="5.1" fill="#7b7b7b" transform="rotate(-32.9790738208659 815.7 774.3)" filter="url(#b1_8)"/><ellipse cx="580.6" cy="783.3" rx="2.8" ry="5.6" fill="#848484" transform="rotate(-26.05150244997957 580.6 783.3)" filter="url(#b1_8)"/><ellipse cx="614.6" cy="768.3" rx="2.8" ry="5.2" fill="#868686" transform="rotate(-32.66984024720589 614.6 768.3)" filter="url(#b1_8)"/><ellipse cx="635.1" cy="823.3" rx="2.8" ry="11.2" fill="#7c7c7c" transform="rotate(-17.302697745020584 635.1 823.3)" filter="url(#b1_8)"/><ellipse cx="787.1" cy="747.6" rx="2.8" ry="4.9" fill="#909090" transform="rotate(-30.73513262844955 787.1 747.6)" filter="url(#b1_8)"/><ellipse cx="632.2" cy="777.7" rx="2.8" ry="7.0" fill="#7c7c7c" transform="rotate(-33.53202893223152 632.2 777.7)" filter="url(#b1_8)"/><ellipse cx="588.4" cy="734.0" rx="2.8" ry="6.2" fill="#858585" transform="rotate(-27.565919068135436 588.4 734.0)" filter="url(#b1_8)"/><ellipse cx="682.8" cy="820.6" rx="2.8" ry="8.4" fill="#848484" transform="rotate(-17.669486643955555 682.8 820.6)" filter="url(#b1_8)"/><ellipse cx="801.2" cy="788.1" rx="2.8" ry="6.2" fill="#797979" transform="rotate(-20.211512203666974 801.2 788.1)" filter="url(#b1_8)"/><ellipse cx="809.5" cy="645.2" rx="2.8" ry="12.6" fill="#8d8d8d" transform="rotate(-22.92931570433113 809.5 645.2)" filter="url(#b1_8)"/><ellipse cx="575.1" cy="821.4" rx="2.8" ry="6.1" fill="#888888" transform="rotate(-29.860372033593762 575.1 821.4)" filter="url(#b1_8)"/><ellipse cx="779.2" cy="737.2" rx="2.8" ry="6.6" fill="#797979" transform="rotate(-20.59293344956961 779.2 737.2)" filter="url(#b1_8)"/><ellipse cx="710.4" cy="796.1" rx="2.8" ry="9.5" fill="#7c7c7c" transform="rotate(-16.6527964301485 710.4 796.1)" filter="url(#b1_8)"/><ellipse cx="635.0" cy="702.5" rx="2.8" ry="4.5" fill="#797979" transform="rotate(-27.624292592554745 635.0 702.5)" filter="url(#b1_8)"/><ellipse cx="796.6" cy="825.5" rx="2.8" ry="9.9" fill="#888888" transform="rotate(-23.311194636396422 796.6 825.5)" filter="url(#b1_8)"/><ellipse cx="569.7" cy="809.3" rx="2.8" ry="10.3" fill="#8f8f8f" transform="rotate(-34.57481643581797 569.7 809.3)" filter="url(#b1_8)"/><ellipse cx="730.4" cy="710.9" rx="2.8" ry="10.6" fill="#7d7d7d" transform="rotate(-15.012847472364893 730.4 710.9)" filter="url(#b1_8)"/><ellipse cx="584.6" cy="725.6" rx="2.8" ry="10.6" fill="#8e8e8e" transform="rotate(-20.2582373116688 584.6 725.6)" filter="url(#b1_8)"/><ellipse cx="748.0" cy="782.5" rx="2.8" ry="12.2" fill="#7e7e7e" transform="rotate(-21.29708089332604 748.0 782.5)" filter="url(#b1_8)"/><ellipse cx="799.2" cy="800.4" rx="2.8" ry="7.8" fill="#8a8a8a" transform="rotate(-17.730546519171348 799.2 800.4)" filter="url(#b1_8)"/><ellipse cx="713.9" cy="743.7" rx="2.8" ry="7.4" fill="#848484" transform="rotate(-22.822661985121805 713.9 743.7)" filter="url(#b1_8)"/><ellipse cx="585.9" cy="747.1" rx="2.8" ry="12.9" fill="#8d8d8d" transform="rotate(-20.43585846868904 585.9 747.1)" filter="url(#b1_8)"/><ellipse cx="666.0" cy="769.1" rx="2.8" ry="9.2" fill="#808080" transform="rotate(-18.232599416188624 666.0 769.1)" filter="url(#b1_8)"/><ellipse cx="586.8" cy="772.5" rx="2.8" ry="4.3" fill="#858585" transform="rotate(-25.38086369301518 586.8 772.5)" filter="url(#b1_8)"/><ellipse cx="624.9" cy="760.6" rx="2.8" ry="8.5" fill="#858585" transform="rotate(-16.590714531198547 624.9 760.6)" filter="url(#b1_8)"/><ellipse cx="643.3" cy="756.0" rx="2.8" ry="5.8" fill="#797979" transform="rotate(-16.885568001490196 643.3 756.0)" filter="url(#b1_8)"/><ellipse cx="736.6" cy="701.6" rx="2.8" ry="12.0" fill="#7d7d7d" transform="rotate(-21.682018749326573 736.6 701.6)" filter="url(#b1_8)"/><ellipse cx="774.6" cy="810.3" rx="2.8" ry="11.9" fill="#7f7f7f" transform="rotate(-23.337856244921177 774.6 810.3)" filter="url(#b1_8)"/><ellipse cx="694.1" cy="792.5" rx="2.8" ry="11.6" fill="#888888" transform="rotate(-15.999996963089703 694.1 792.5)" filter="url(#b1_8)"/><ellipse cx="727.7" cy="713.6" rx="2.8" ry="6.8" fill="#8c8c8c" transform="rotate(-15.359269883516976 727.7 713.6)" filter="url(#b1_8)"/><ellipse cx="573.2" cy="800.8" rx="2.8" ry="4.4" fill="#888888" transform="rotate(-23.588360793260527 573.2 800.8)" filter="url(#b1_8)"/><ellipse cx="645.3" cy="782.0" rx="2.8" ry="4.2" fill="#787878" transform="rotate(-25.903351725650058 645.3 782.0)" filter="url(#b1_8)"/><ellipse cx="571.4" cy="790.8" rx="2.8" ry="6.1" fill="#787878" transform="rotate(-34.06114861607364 571.4 790.8)" filter="url(#b1_8)"/><ellipse cx="728.6" cy="702.7" rx="2.8" ry="9.7" fill="#878787" transform="rotate(-18.852301781075735 728.6 702.7)" filter="url(#b1_8)"/><ellipse cx="814.2" cy="757.4" rx="2.8" ry="5.8" fill="#818181" transform="rotate(-31.426278097298308 814.2 757.4)" filter="url(#b1_8)"/><ellipse cx="567.8" cy="708.6" rx="2.8" ry="10.4" fill="#797979" transform="rotate(-29.552901271196625 567.8 708.6)" filter="url(#b1_8)"/><ellipse cx="654.9" cy="760.4" rx="2.8" ry="8.7" fill="#858585" transform="rotate(-19.875862872720905 654.9 760.4)" filter="url(#b1_8)"/><ellipse cx="667.3" cy="782.1" rx="2.8" ry="12.2" fill="#767676" transform="rotate(-16.34792344381675 667.3 782.1)" filter="url(#b1_8)"/><ellipse cx="727.6" cy="809.3" rx="2.8" ry="7.4" fill="#848484" transform="rotate(-17.41358347197616 727.6 809.3)" filter="url(#b1_8)"/><ellipse cx="772.2" cy="817.2" rx="2.8" ry="8.2" fill="#868686" transform="rotate(-30.90211270764997 772.2 817.2)" filter="url(#b1_8)"/><ellipse cx="752.7" cy="788.2" rx="2.8" ry="9.8" fill="#888888" transform="rotate(-30.734068417207617 752.7 788.2)" filter="url(#b1_8)"/><ellipse cx="799.0" cy="825.5" rx="2.8" ry="12.8" fill="#838383" transform="rotate(-19.18425739820752 799.0 825.5)" filter="url(#b1_8)"/><ellipse cx="648.3" cy="809.3" rx="2.8" ry="11.7" fill="#7e7e7e" transform="rotate(-33.3445483390786 648.3 809.3)" filter="url(#b1_8)"/><ellipse cx="679.6" cy="726.6" rx="2.8" ry="10.9" fill="#828282" transform="rotate(-34.43179276312969 679.6 726.6)" filter="url(#b1_8)"/><ellipse cx="775.4" cy="614.7" rx="2.8" ry="5.6" fill="#7d7d7d" transform="rotate(-19.241881681083555 775.4 614.7)" filter="url(#b1_8)"/><ellipse cx="699.3" cy="766.4" rx="2.8" ry="11.6" fill="#888888" transform="rotate(-16.08505206109006 699.3 766.4)" filter="url(#b1_8)"/><ellipse cx="693.1" cy="818.3" rx="2.8" ry="4.8" fill="#7a7a7a" transform="rotate(-24.466731912080206 693.1 818.3)" filter="url(#b1_8)"/><ellipse cx="640.4" cy="767.6" rx="2.8" ry="9.7" fill="#838383" transform="rotate(-18.12753201913654 640.4 767.6)" filter="url(#b1_8)"/><ellipse cx="710.6" cy="671.7" rx="2.8" ry="7.4" fill="#8c8c8c" transform="rotate(-16.989499239707804 710.6 671.7)" filter="url(#b1_8)"/><ellipse cx="619.1" cy="795.7" rx="2.8" ry="12.7" fill="#838383" transform="rotate(-23.540218398325504 619.1 795.7)" filter="url(#b1_8)"/><ellipse cx="617.3" cy="723.3" rx="2.8" ry="8.5" fill="#858585" transform="rotate(-34.444889644038476 617.3 723.3)" filter="url(#b1_8)"/><ellipse cx="817.0" cy="718.7" rx="2.8" ry="7.6" fill="#8b8b8b" transform="rotate(-23.74266622633771 817.0 718.7)" filter="url(#b1_8)"/><ellipse cx="692.7" cy="758.9" rx="2.8" ry="4.6" fill="#838383" transform="rotate(-26.724518251302396 692.7 758.9)" filter="url(#b1_8)"/><ellipse cx="813.8" cy="812.4" rx="2.8" ry="6.4" fill="#818181" transform="rotate(-32.46064821784484 813.8 812.4)" filter="url(#b1_8)"/><ellipse cx="677.8" cy="787.6" rx="2.8" ry="12.1" fill="#818181" transform="rotate(-28.65570707490837 677.8 787.6)" filter="url(#b1_8)"/><ellipse cx="614.8" cy="742.1" rx="2.8" ry="12.3" fill="#777777" transform="rotate(-19.414223137903168 614.8 742.1)" filter="url(#b1_8)"/><ellipse cx="624.1" cy="758.0" rx="2.8" ry="6.9" fill="#7e7e7e" transform="rotate(-22.604673281487422 624.1 758.0)" filter="url(#b1_8)"/><ellipse cx="592.3" cy="768.1" rx="2.8" ry="5.1" fill="#828282" transform="rotate(-29.988927138195006 592.3 768.1)" filter="url(#b1_8)"/><ellipse cx="616.4" cy="722.0" rx="2.8" ry="7.9" fill="#7e7e7e" transform="rotate(-26.731959756436982 616.4 722.0)" filter="url(#b1_8)"/><ellipse cx="729.1" cy="746.8" rx="2.8" ry="8.8" fill="#8c8c8c" transform="rotate(-22.765777172648214 729.1 746.8)" filter="url(#b1_8)"/><ellipse cx="787.8" cy="653.5" rx="2.8" ry="10.7" fill="#8b8b8b" transform="rotate(-16.946449401805552 787.8 653.5)" filter="url(#b1_8)"/><ellipse cx="804.9" cy="650.2" rx="2.8" ry="13.0" fill="#8d8d8d" transform="rotate(-32.32135550842123 804.9 650.2)" filter="url(#b1_8)"/><ellipse cx="627.2" cy="767.1" rx="2.8" ry="6.3" fill="#767676" transform="rotate(-18.35662932080175 627.2 767.1)" filter="url(#b1_8)"/><ellipse cx="674.6" cy="781.7" rx="2.8" ry="5.1" fill="#7f7f7f" transform="rotate(-21.29570189135405 674.6 781.7)" filter="url(#b1_8)"/><ellipse cx="742.4" cy="809.6" rx="2.8" ry="12.7" fill="#777777" transform="rotate(-24.886381531557205 742.4 809.6)" filter="url(#b1_8)"/><ellipse cx="762.1" cy="715.6" rx="2.8" ry="10.2" fill="#797979" transform="rotate(-33.58895741670227 762.1 715.6)" filter="url(#b1_8)"/><ellipse cx="708.4" cy="718.4" rx="2.8" ry="9.1" fill="#787878" transform="rotate(-31.309274119891676 708.4 718.4)" filter="url(#b1_8)"/><ellipse cx="618.0" cy="793.2" rx="2.8" ry="12.9" fill="#8e8e8e" transform="rotate(-33.095071527394836 618.0 793.2)" filter="url(#b1_8)"/><ellipse cx="581.1" cy="818.8" rx="2.8" ry="8.2" fill="#8a8a8a" transform="rotate(-28.46345463530952 581.1 818.8)" filter="url(#b1_8)"/><ellipse cx="686.4" cy="718.5" rx="2.8" ry="7.9" fill="#858585" transform="rotate(-34.7350799092641 686.4 718.5)" filter="url(#b1_8)"/><ellipse cx="747.3" cy="794.2" rx="2.8" ry="5.6" fill="#818181" transform="rotate(-20.213315282733166 747.3 794.2)" filter="url(#b1_8)"/><ellipse cx="607.9" cy="717.9" rx="2.8" ry="4.1" fill="#8d8d8d" transform="rotate(-18.96587672205175 607.9 717.9)" filter="url(#b1_8)"/><ellipse cx="748.2" cy="798.0" rx="2.8" ry="9.7" fill="#7f7f7f" transform="rotate(-23.00789711014214 748.2 798.0)" filter="url(#b1_8)"/><ellipse cx="696.1" cy="826.0" rx="2.8" ry="11.2" fill="#7b7b7b" transform="rotate(-16.774019432623085 696.1 826.0)" filter="url(#b1_8)"/><ellipse cx="758.6" cy="778.9" rx="2.8" ry="11.3" fill="#7f7f7f" transform="rotate(-17.069098602248623 758.6 778.9)" filter="url(#b1_8)"/><ellipse cx="793.8" cy="759.8" rx="2.8" ry="10.9" fill="#8a8a8a" transform="rotate(-26.88508984344769 793.8 759.8)" filter="url(#b1_8)"/><ellipse cx="731.1" cy="743.5" rx="2.8" ry="6.1" fill="#8f8f8f" transform="rotate(-21.678128644992952 731.1 743.5)" filter="url(#b1_8)"/><ellipse cx="652.8" cy="751.7" rx="2.8" ry="9.1" fill="#838383" transform="rotate(-27.20811851103632 652.8 751.7)" filter="url(#b1_8)"/><ellipse cx="825.0" cy="747.7" rx="2.8" ry="10.3" fill="#8a8a8a" transform="rotate(-15.398265782756635 825.0 747.7)" filter="url(#b1_8)"/><ellipse cx="570.9" cy="741.5" rx="2.8" ry="10.6" fill="#7b7b7b" transform="rotate(-26.968886926060726 570.9 741.5)" filter="url(#b1_8)"/><ellipse cx="630.2" cy="808.3" rx="2.8" ry="9.0" fill="#828282" transform="rotate(-15.657274347443174 630.2 808.3)" filter="url(#b1_8)"/><ellipse cx="712.7" cy="828.9" rx="2.8" ry="9.7" fill="#8b8b8b" transform="rotate(-33.476080216554465 712.7 828.9)" filter="url(#b1_8)"/><ellipse cx="720.4" cy="774.6" rx="2.8" ry="4.4" fill="#8e8e8e" transform="rotate(-31.801368536665667 720.4 774.6)" filter="url(#b1_8)"/><ellipse cx="723.9" cy="613.5" rx="2.8" ry="7.8" fill="#838383" transform="rotate(-23.043359769523956 723.9 613.5)" filter="url(#b1_8)"/><ellipse cx="735.3" cy="728.9" rx="2.8" ry="6.6" fill="#888888" transform="rotate(-29.079190041592522 735.3 728.9)" filter="url(#b1_8)"/><ellipse cx="761.2" cy="689.7" rx="2.8" ry="12.1" fill="#898989" transform="rotate(-33.996835711338136 761.2 689.7)" filter="url(#b1_8)"/><ellipse cx="822.1" cy="817.2" rx="2.8" ry="4.7" fill="#8e8e8e" transform="rotate(-26.409685206543685 822.1 817.2)" filter="url(#b1_8)"/><ellipse cx="689.2" cy="823.8" rx="2.8" ry="6.2" fill="#838383" transform="rotate(-16.254580943261324 689.2 823.8)" filter="url(#b1_8)"/><ellipse cx="752.9" cy="707.7" rx="2.8" ry="12.8" fill="#8b8b8b" transform="rotate(-22.927534176944782 752.9 707.7)" filter="url(#b1_8)"/><ellipse cx="594.9" cy="743.6" rx="2.8" ry="8.1" fill="#797979" transform="rotate(-33.95888591457947 594.9 743.6)" filter="url(#b1_8)"/><ellipse cx="738.7" cy="704.8" rx="2.8" ry="6.4" fill="#848484" transform="rotate(-26.609363650676624 738.7 704.8)" filter="url(#b1_8)"/><ellipse cx="767.3" cy="722.1" rx="2.8" ry="13.0" fill="#8f8f8f" transform="rotate(-20.314305852521716 767.3 722.1)" filter="url(#b1_8)"/><ellipse cx="797.1" cy="780.4" rx="2.8" ry="9.6" fill="#7e7e7e" transform="rotate(-29.569763152329834 797.1 780.4)" filter="url(#b1_8)"/><ellipse cx="743.1" cy="729.9" rx="2.8" ry="9.3" fill="#868686" transform="rotate(-19.93300806888401 743.1 729.9)" filter="url(#b1_8)"/><ellipse cx="819.7" cy="810.6" rx="2.8" ry="11.9" fill="#757575" transform="rotate(-33.78426298357907 819.7 810.6)" filter="url(#b1_8)"/><ellipse cx="740.8" cy="726.6" rx="2.8" ry="9.7" fill="#7e7e7e" transform="rotate(-25.428889937088 740.8 726.6)" filter="url(#b1_8)"/><ellipse cx="758.7" cy="792.9" rx="2.8" ry="4.7" fill="#777777" transform="rotate(-18.8163398471412 758.7 792.9)" filter="url(#b1_8)"/><path d="M571.0,662.0C570.3,668.3 568.8,688.2 567.0,700.0C565.2,711.8 564.2,723.5 560.0,733.0C555.8,742.5 549.0,748.3 541.8,757.0C534.6,765.7 525.8,775.7 517.0,785.0C508.2,794.3 498.5,804.5 489.0,813.0C479.5,821.5 464.8,832.2 460.0,836.0" fill="none" stroke="#636363" stroke-width="34" stroke-linecap="round" stroke-linejoin="round" filter="url(#b6)"/><path d="M560.0,733.0C557.0,737.0 549.0,748.3 541.8,757.0C534.6,765.7 525.8,775.7 517.0,785.0C508.2,794.3 498.5,804.5 489.0,813.0C479.5,821.5 464.8,832.2 460.0,836.0" fill="none" stroke="#4e4e4e" stroke-width="20" stroke-linecap="round" stroke-linejoin="round" filter="url(#b5)"/><path d="M612.0,422.0C614.3,428.8 625.2,447.0 626.0,463.0C626.8,479.0 621.2,499.8 617.0,518.0C612.8,536.2 606.5,553.8 601.0,572.0C595.5,590.2 589.0,612.0 584.0,627.0C579.0,642.0 573.2,656.2 571.0,662.0" fill="none" stroke="#636363" stroke-width="62" stroke-linecap="round" stroke-linejoin="round" filter="url(#b9)" opacity="0.9"/><path d="M618.0,440.0C618.7,446.7 623.0,465.8 622.0,480.0C621.0,494.2 616.0,509.2 612.0,525.0C608.0,540.8 602.7,559.2 598.0,575.0C593.3,590.8 586.3,612.5 584.0,620.0" fill="none" stroke="#474747" stroke-width="32" stroke-linecap="round" stroke-linejoin="round" filter="url(#b6)"/><ellipse cx="595.0" cy="540.0" rx="22.0" ry="34.0" fill="#3d3d3d" filter="url(#b5)"/><ellipse cx="629.0" cy="462.0" rx="8.0" ry="17.0" fill="#303030" filter="url(#b3)"/></g></g><ellipse cx="456.4" cy="459.2" rx="7" ry="6" fill="url(#eyeg)"/><g fill="none" stroke="#fff" stroke-width="1.7" stroke-linejoin="round"><path d="M272.0,570.7C272.4,569.9 274.8,568.3 276.9,567.1C278.9,565.9 282.1,564.4 284.1,563.4C286.2,562.5 288.4,561.3 289.0,561.5C289.6,561.7 289.2,563.4 287.8,564.6C286.4,565.9 282.7,567.6 280.5,568.8C278.3,570.0 275.9,571.6 274.4,571.9C273.0,572.2 271.6,571.5 272.0,570.7Z"/><path d="M275.2,578.0C275.5,576.7 279.1,574.5 280.5,574.3C281.9,574.1 283.3,575.4 283.7,576.8C284.1,578.1 283.8,581.5 282.9,582.4C282.1,583.2 279.9,582.6 278.6,581.9C277.3,581.1 274.8,579.2 275.2,578.0Z"/><path d="M293.8,589.6C294.0,589.1 296.6,588.5 297.5,588.7C298.4,588.8 299.4,590.0 299.2,590.6C299.0,591.2 297.2,592.2 296.3,592.1C295.4,591.9 293.6,590.2 293.8,589.6Z"/><path d="M284.9,618.7C285.2,618.4 286.8,619.1 287.3,619.7C287.8,620.3 288.1,621.8 287.8,622.1C287.5,622.5 286.1,622.2 285.6,621.7C285.1,621.1 284.6,619.1 284.9,618.7Z"/><path d="M293.8,628.9C294.0,627.6 296.1,625.7 297.5,625.5C298.9,625.3 300.8,626.4 302.3,627.7C303.9,629.0 305.4,631.6 306.7,633.3C308.0,635.0 309.7,636.6 310.1,637.7C310.5,638.7 309.8,639.5 309.1,639.6C308.4,639.7 307.3,638.9 306.0,638.2C304.6,637.4 302.7,635.8 301.1,635.0C299.5,634.2 297.5,634.3 296.3,633.3C295.1,632.3 293.6,630.2 293.8,628.9Z"/><path d="M365.9,604.7C366.5,603.4 368.7,602.9 370.3,603.2C371.8,603.5 374.0,605.0 375.1,606.6C376.2,608.3 377.3,611.5 377.1,613.2C376.9,614.9 375.2,616.5 373.9,616.8C372.6,617.1 370.3,615.9 369.1,614.9C367.8,613.9 367.2,612.4 366.6,610.7C366.1,609.0 365.3,605.9 365.9,604.7Z"/><path d="M364.9,647.1C365.5,645.2 367.6,643.9 369.1,643.5C370.5,643.1 372.4,644.7 373.9,644.7C375.4,644.7 376.8,642.9 378.0,643.5C379.3,644.1 381.1,646.5 381.4,648.3C381.7,650.2 381.0,653.0 380.0,654.4C378.9,655.8 376.7,656.8 375.1,656.8C373.5,656.8 371.8,654.7 370.3,654.4C368.7,654.1 366.8,656.3 365.9,655.1C365.0,653.9 364.4,649.1 364.9,647.1Z"/><path d="M341.2,670.2C341.9,669.2 343.9,668.4 344.8,669.0C345.7,669.6 346.5,672.1 346.7,673.8C346.9,675.6 346.9,678.5 346.0,679.4C345.2,680.3 342.6,680.2 341.6,679.4C340.7,678.6 340.3,676.1 340.2,674.5C340.1,673.0 340.4,671.1 341.2,670.2Z"/><path d="M372.7,704.1C373.8,702.9 376.0,701.8 378.0,701.7C380.0,701.6 383.1,702.4 384.8,703.7C386.6,704.9 387.7,706.9 388.5,709.0C389.3,711.1 389.8,713.6 389.7,716.3C389.6,718.9 388.5,722.3 387.7,724.8C386.9,727.2 386.1,729.6 384.8,730.8C383.5,732.0 381.4,733.0 380.0,732.0C378.6,731.0 377.5,727.4 376.3,724.8C375.2,722.1 374.0,718.9 373.2,716.3C372.4,713.6 371.6,711.0 371.5,709.0C371.4,707.0 371.6,705.4 372.7,704.1Z"/><path d="M390.2,709.0C390.0,707.0 392.0,703.9 392.1,701.7C392.2,699.5 390.3,697.3 390.9,695.6C391.5,693.9 394.1,691.7 395.7,691.5C397.4,691.3 399.6,692.9 400.6,694.4C401.6,695.9 400.8,698.9 401.8,700.5C402.8,702.1 404.8,703.1 406.7,704.1C408.5,705.1 410.9,705.6 412.7,706.6C414.5,707.6 418.2,709.4 417.6,710.2C417.0,711.0 411.9,710.9 409.1,711.4C406.3,711.9 403.2,713.0 400.6,713.4C398.0,713.8 395.1,714.6 393.3,713.8C391.6,713.1 390.4,711.0 390.2,709.0Z"/><path d="M422.4,706.1C423.2,705.4 427.2,703.5 428.5,703.2C429.8,702.8 431.2,703.4 430.4,704.1C429.7,704.9 425.5,707.2 424.1,707.5C422.8,707.9 421.7,706.8 422.4,706.1Z"/><path d="M383.6,738.6C384.2,738.2 387.0,737.5 387.7,737.6C388.5,737.7 388.8,738.7 388.2,739.1C387.7,739.5 385.1,740.1 384.3,740.0C383.6,740.0 383.0,739.0 383.6,738.6Z"/><path d="M395.7,756.3C396.7,755.1 398.8,754.5 400.6,755.1C402.4,755.7 405.0,757.5 406.7,759.9C408.3,762.4 409.6,766.4 410.3,769.6C411.0,772.9 411.6,776.5 411.0,779.3C410.4,782.2 408.0,785.6 406.7,786.6C405.3,787.6 404.0,787.0 403.0,785.4C402.0,783.8 401.6,779.5 400.6,776.9C399.6,774.3 398.0,772.1 397.0,769.6C395.9,767.2 394.7,764.6 394.5,762.4C394.3,760.1 394.7,757.5 395.7,756.3Z"/><path d="M412.7,813.3C413.3,812.0 415.8,810.7 417.6,810.4C419.4,810.1 421.4,810.5 423.6,811.4C425.9,812.3 428.7,814.6 430.9,815.7C433.1,816.9 436.2,817.2 437.0,818.2C437.8,819.2 435.6,820.2 435.8,821.8C436.0,823.4 438.6,826.0 438.2,827.9C437.8,829.7 435.8,831.9 433.3,832.7C430.9,833.5 426.3,834.1 423.6,832.7C421.0,831.3 419.2,826.7 417.6,824.2C416.0,821.8 414.7,820.0 413.9,818.2C413.1,816.3 412.1,814.6 412.7,813.3Z"/><circle cx="314.0" cy="645.4" r="3.9"/><circle cx="410.3" cy="733.3" r="4.8"/><circle cx="266.7" cy="610.3" r="0.8" fill="#fff"/><circle cx="331.4" cy="660.5" r="0.8" fill="#fff"/><circle cx="252.6" cy="539.7" r="0.8" fill="#fff"/></g><g stroke="#fff" stroke-width="2.1" stroke-dasharray="2.1 3.4" fill="none"><line x1="211.0" y1="101.5" x2="211.0" y2="829.0"/><line x1="356.5" y1="101.5" x2="356.5" y2="829.0"/><line x1="502.0" y1="101.5" x2="502.0" y2="829.0"/><line x1="647.5" y1="101.5" x2="647.5" y2="829.0"/><line x1="793.0" y1="101.5" x2="793.0" y2="829.0"/><line x1="95.7" y1="147.0" x2="823.5" y2="147.0"/><line x1="95.7" y1="292.5" x2="823.5" y2="292.5"/><line x1="95.7" y1="438.0" x2="823.5" y2="438.0"/><line x1="95.7" y1="583.5" x2="823.5" y2="583.5"/><line x1="95.7" y1="729.0" x2="823.5" y2="729.0"/></g></g><rect x="95.7" y="101.5" width="727.8" height="727.5" fill="none" stroke="#000" stroke-width="3"/><text x="87.7" y="151.2" font-size="13.9" text-anchor="end" font-weight="normal" fill="#000" >24°N</text><text x="87.7" y="296.7" font-size="13.9" text-anchor="end" font-weight="normal" fill="#000" >22°N</text><text x="87.7" y="442.2" font-size="13.9" text-anchor="end" font-weight="normal" fill="#000" >20°N</text><text x="87.7" y="587.7" font-size="13.9" text-anchor="end" font-weight="normal" fill="#000" >18°N</text><text x="87.7" y="733.2" font-size="13.9" text-anchor="end" font-weight="normal" fill="#000" >16°N</text><text x="211.0" y="850.8" font-size="13.9" text-anchor="middle" font-weight="normal" fill="#000" >64°W</text><text x="356.5" y="850.8" font-size="13.9" text-anchor="middle" font-weight="normal" fill="#000" >62°W</text><text x="502.0" y="850.8" font-size="13.9" text-anchor="middle" font-weight="normal" fill="#000" >60°W</text><text x="647.5" y="850.8" font-size="13.9" text-anchor="middle" font-weight="normal" fill="#000" >58°W</text><text x="793.0" y="850.8" font-size="13.9" text-anchor="middle" font-weight="normal" fill="#000" >56°W</text><rect x="830.5" y="101.5" width="15.2" height="727.5" fill="url(#cbTR)" stroke="#000" stroke-width="1.1"/><text x="852.6" y="157.0" font-size="16.67" text-anchor="start" font-weight="normal" fill="#000" >40</text><text x="852.6" y="205.5" font-size="16.67" text-anchor="start" font-weight="normal" fill="#000" >30</text><text x="852.6" y="254.0" font-size="16.67" text-anchor="start" font-weight="normal" fill="#000" >20</text><text x="852.6" y="302.5" font-size="16.67" text-anchor="start" font-weight="normal" fill="#000" >10</text><text x="852.6" y="351.0" font-size="16.67" text-anchor="start" font-weight="normal" fill="#000" >0</text><text x="852.6" y="399.5" font-size="16.67" text-anchor="start" font-weight="normal" fill="#000" >−10</text><text x="852.6" y="448.0" font-size="16.67" text-anchor="start" font-weight="normal" fill="#000" >−20</text><text x="852.6" y="496.5" font-size="16.67" text-anchor="start" font-weight="normal" fill="#000" >−30</text><text x="852.6" y="545.0" font-size="16.67" text-anchor="start" font-weight="normal" fill="#000" >−40</text><text x="852.6" y="593.5" font-size="16.67" text-anchor="start" font-weight="normal" fill="#000" >−50</text><text x="852.6" y="642.0" font-size="16.67" text-anchor="start" font-weight="normal" fill="#000" >−60</text><text x="852.6" y="690.5" font-size="16.67" text-anchor="start" font-weight="normal" fill="#000" >−70</text><text x="852.6" y="739.0" font-size="16.67" text-anchor="start" font-weight="normal" fill="#000" >−80</text><text x="852.6" y="787.5" font-size="16.67" text-anchor="start" font-weight="normal" fill="#000" >−90</text><text x="839.1" y="94.0" font-size="16.67" text-anchor="start" font-weight="normal" fill="#000" >°C</text></g>
<text x="94.7" y="50.5" font-size="26.05" text-anchor="start" font-weight="normal" fill="#000" >GOES-19 BAND14-DIAS MESOSCALE</text><text x="95.0" y="80.8" font-size="26.05" text-anchor="start" font-weight="normal" fill="#000" >Time: 2025/08/16 06:38:25Z</text><text x="1697.9" y="39.0" font-size="17.37" text-anchor="end" font-weight="normal" fill="#000" >[dmax, dmin](BAND14)=(-21.634, -79.124)</text><text x="1697.9" y="60.0" font-size="17.37" text-anchor="end" font-weight="normal" fill="#000" >[dmax, dmin](AWV)=(-41.971, -78.144)</text><text x="1697.9" y="81.0" font-size="17.37" text-anchor="end" font-weight="normal" fill="#000" >05L.ERIN | 90kt, 970mb</text>
<text x="469.9" y="881.6" font-size="22.7" text-anchor="middle" font-weight="normal" fill="#000" >Wind / Pres. / ACE Diagnosis</text><rect x="95.6" y="903.3" width="750.4" height="374.70000000000005" fill="#fff"/><rect x="95.6" y="1278.0" width="750.4" height="375.0" fill="#fff"/><polyline points="126.5,1261.5 148.6,1261.5 170.6,1261.5 192.7,1261.5 214.8,1261.5 236.9,1261.5 258.9,1261.5 281.0,1261.5 303.1,1235.3 325.2,1235.3 347.2,1235.3 369.3,1235.3 391.4,1182.8 413.5,1182.8 435.5,1182.8 457.6,1182.8 479.7,1182.8 501.8,1182.8 523.8,1182.8 545.9,1182.8 568.0,1156.5 590.1,1156.5 612.1,1156.5 634.2,1156.5 656.3,1130.3 678.4,1130.3 700.4,1077.8 722.5,1077.8 744.6,1051.5 766.6,1051.5 788.7,999.0 810.8,920.3" fill="none" stroke="#0000ff" stroke-width="4.8" stroke-linejoin="round" stroke-linecap="square"/><polyline points="126.5,920.4 148.6,920.4 170.6,973.5 192.7,981.1 214.8,988.7 236.9,988.7 258.9,988.7 281.0,988.7 303.1,988.7 325.2,988.7 347.2,988.7 369.3,988.7 391.4,1003.8 413.5,1003.8 435.5,1003.8 457.6,1003.8 479.7,988.7 501.8,988.7 523.8,1003.8 545.9,1003.8 568.0,1019.0 590.1,1019.0 612.1,1019.0 634.2,1019.0 656.3,1041.8 678.4,1049.4 700.4,1049.4 722.5,1049.4 744.6,1049.4 766.6,1087.3 788.7,1178.4 810.8,1261.9" fill="none" stroke="#1f77b4" stroke-width="4.8" stroke-linejoin="round" stroke-linecap="square"/><polyline points="126.5,1635.7 148.6,1635.7 170.6,1635.7 192.7,1635.7 214.8,1635.7 236.9,1635.7 258.9,1635.7 281.0,1635.7 303.1,1635.7 325.2,1635.7 347.2,1635.7 369.3,1635.7 391.4,1625.8 413.5,1616.0 435.5,1606.1 457.6,1596.3 479.7,1586.4 501.8,1576.5 523.8,1566.7 545.9,1556.8 568.0,1544.3 590.1,1531.8 612.1,1519.4 634.2,1506.9 656.3,1491.5 678.4,1476.1 700.4,1453.9 722.5,1431.7 744.6,1405.6 766.6,1379.6 788.7,1344.9 810.8,1295.0" fill="none" stroke="#008000" stroke-width="4.8" stroke-linejoin="round" stroke-linecap="square"/><rect x="104.5" y="913.5" width="214" height="35.5" rx="4.5" fill="#fff" fill-opacity="0.8" stroke="#ccc" stroke-opacity="0.85" stroke-width="3.5"/><polyline points="112.3,928.4 150.3,928.4" fill="none" stroke="#0000ff" stroke-width="4.8" stroke-linejoin="round" stroke-linecap="square"/><text x="166.0" y="935.9" font-size="19.17" text-anchor="start" font-weight="normal" fill="#000" >Wind[max=90]</text><rect x="617.5" y="913.5" width="217.5" height="35.5" rx="4.5" fill="#fff" fill-opacity="0.8" stroke="#ccc" stroke-opacity="0.85" stroke-width="3.5"/><polyline points="625.3,928.4 663.3,928.4" fill="none" stroke="#1f77b4" stroke-width="4.8" stroke-linejoin="round" stroke-linecap="square"/><text x="677.6" y="935.9" font-size="19.17" text-anchor="start" font-weight="normal" fill="#000" >Pres.[min=970]</text><rect x="104.4" y="1286.3" width="246" height="34.6" rx="4.5" fill="#fff" fill-opacity="0.8" stroke="#ccc" stroke-opacity="0.85" stroke-width="3.5"/><polyline points="112.3,1303.5 150.3,1303.5" fill="none" stroke="#008000" stroke-width="4.8" stroke-linejoin="round" stroke-linecap="square"/><text x="165.6" y="1311.0" font-size="19.17" text-anchor="start" font-weight="normal" fill="#000" >ACE[max=5.5275]</text><rect x="95.6" y="903.3" width="750.4" height="374.70000000000005" fill="none" stroke="#000" stroke-width="3.1"/><rect x="95.6" y="1278.0" width="750.4" height="375.0" fill="none" stroke="#000" stroke-width="3.1"/><text x="70.9" y="1240.5" font-size="13.5" text-anchor="end" font-weight="normal" fill="#000" >30</text><text x="70.9" y="1188.0" font-size="13.5" text-anchor="end" font-weight="normal" fill="#000" >40</text><text x="70.9" y="1135.5" font-size="13.5" text-anchor="end" font-weight="normal" fill="#000" >50</text><text x="70.9" y="1083.0" font-size="13.5" text-anchor="end" font-weight="normal" fill="#000" >60</text><text x="70.9" y="1030.5" font-size="13.5" text-anchor="end" font-weight="normal" fill="#000" >70</text><text x="70.9" y="978.0" font-size="13.5" text-anchor="end" font-weight="normal" fill="#000" >80</text><text x="70.9" y="925.5" font-size="13.5" text-anchor="end" font-weight="normal" fill="#000" >90</text><text x="869.7" y="1267.1" font-size="13.5" text-anchor="start" font-weight="normal" fill="#000" >970</text><text x="869.7" y="1191.2" font-size="13.5" text-anchor="start" font-weight="normal" fill="#000" >980</text><text x="869.7" y="1115.3" font-size="13.5" text-anchor="start" font-weight="normal" fill="#000" >990</text><text x="869.7" y="1039.4" font-size="13.5" text-anchor="start" font-weight="normal" fill="#000" >1000</text><text x="869.7" y="963.5" font-size="13.5" text-anchor="start" font-weight="normal" fill="#000" >1010</text><text x="70.9" y="1640.9" font-size="13.5" text-anchor="end" font-weight="normal" fill="#000" >0</text><text x="70.9" y="1579.3" font-size="13.5" text-anchor="end" font-weight="normal" fill="#000" >1</text><text x="70.9" y="1517.6" font-size="13.5" text-anchor="end" font-weight="normal" fill="#000" >2</text><text x="70.9" y="1456.0" font-size="13.5" text-anchor="end" font-weight="normal" fill="#000" >3</text><text x="70.9" y="1394.3" font-size="13.5" text-anchor="end" font-weight="normal" fill="#000" >4</text><text x="70.9" y="1332.7" font-size="13.5" text-anchor="end" font-weight="normal" fill="#000" >5</text><g stroke="#000" stroke-width="3.1"><line x1="83.3" x2="94.2" y1="1235.3" y2="1235.3"/><line x1="83.3" x2="94.2" y1="1182.8" y2="1182.8"/><line x1="83.3" x2="94.2" y1="1130.3" y2="1130.3"/><line x1="83.3" x2="94.2" y1="1077.8" y2="1077.8"/><line x1="83.3" x2="94.2" y1="1025.3" y2="1025.3"/><line x1="83.3" x2="94.2" y1="972.8" y2="972.8"/><line x1="83.3" x2="94.2" y1="920.3" y2="920.3"/><line x1="847.4" x2="858.3" y1="1261.9" y2="1261.9"/><line x1="847.4" x2="858.3" y1="1186.0" y2="1186.0"/><line x1="847.4" x2="858.3" y1="1110.1" y2="1110.1"/><line x1="847.4" x2="858.3" y1="1034.2" y2="1034.2"/><line x1="847.4" x2="858.3" y1="958.3" y2="958.3"/><line x1="83.3" x2="94.2" y1="1635.7" y2="1635.7"/><line x1="83.3" x2="94.2" y1="1574.1" y2="1574.1"/><line x1="83.3" x2="94.2" y1="1512.4" y2="1512.4"/><line x1="83.3" x2="94.2" y1="1450.8" y2="1450.8"/><line x1="83.3" x2="94.2" y1="1389.1" y2="1389.1"/><line x1="83.3" x2="94.2" y1="1327.5" y2="1327.5"/></g><text x="34.5" y="1091.5" font-size="13.5" text-anchor="middle" transform="rotate(-90 34.5 1091.5)">Wind</text><text x="930" y="1092.5" font-size="13.5" text-anchor="middle" transform="rotate(-90 930 1092.5)">Pressure</text><text x="44" y="1466" font-size="13.5" text-anchor="middle" transform="rotate(-90 44 1466)">ACE</text>
<clipPath id="axBR"><rect x="970.6" y="903.3" width="750.4" height="749.7"/></clipPath><rect x="970.6" y="903.3" width="750.4" height="749.7" fill="#fff"/><g clip-path="url(#axBR)" shape-rendering="crispEdges"><polygon points="1282.6,911.7 1328.8,910.9 1328.8,905.3 1374.8,904.8 1374.8,909.7 1405.1,909.2 1405.1,905.3 1420.8,905.3 1420.8,909.2 1449.9,909.2 1448.9,924.0 1463.9,924.0 1462.9,938.5 1492.9,938.0 1491.7,952.7 1506.0,953.2 1505.5,968.2 1535.0,968.2 1533.1,997.8 1547.1,997.8 1546.6,1012.5 1530.1,1012.5 1528.6,1027.8 1513.1,1027.8 1511.9,1043.8 1481.1,1043.8 1477.7,1073.3 1462.2,1073.3 1460.5,1088.8 1475.7,1088.8 1475.0,1103.6 1429.0,1104.6 1429.7,1089.8 1414.9,1089.8 1413.7,1104.6 1353.4,1105.6 1353.4,1090.5 1339.2,1090.5 1339.9,1075.8 1325.1,1075.0 1326.1,1061.0 1280.1,1062.2 1275.2,1121.3 1258.0,1121.3 1257.5,1137.3 1240.7,1137.3 1240.2,1152.5 1226.0,1152.5 1226.5,1137.3 1211.9,1137.3 1213.2,1122.5 1229.2,1122.5 1229.2,1107.8 1198.9,1107.8 1197.7,1122.5 1183.4,1122.5 1184.1,1108.3 1168.9,1108.3 1171.8,1078.2 1157.1,1078.2 1160.0,1049.4 1191.5,1048.2 1196.9,987.9 1182.9,987.9 1183.4,972.9 1168.9,972.9 1169.9,958.9 1232.1,957.7 1262.4,956.9 1263.4,942.2 1249.1,942.2 1249.1,927.4 1281.1,926.9" fill="#888888"/><polygon points="1166.2,988.4 1181.7,987.9 1180.9,1002.7 1165.9,1002.7" fill="#888888"/><polygon points="1306.0,1107.5 1321.1,1107.1 1319.7,1121.4 1349.8,1120.8 1348.2,1135.6 1410.0,1135.1 1408.7,1149.9 1438.0,1149.9 1437.2,1164.7 1451.9,1164.7 1450.9,1179.4 1466.1,1179.0 1464.8,1194.2 1449.0,1194.2 1446.2,1225.0 1461.0,1225.0 1460.1,1239.3 1474.1,1239.3 1471.8,1268.7 1440.5,1269.7 1438.0,1300.1 1451.9,1300.1 1451.9,1314.8 1391.0,1315.7 1359.1,1316.3 1358.7,1330.5 1312.7,1331.1 1311.2,1346.7 1280.2,1347.1 1278.8,1361.5 1264.2,1361.9 1266.1,1332.4 1252.2,1331.9 1252.2,1317.6 1223.1,1317.6 1227.5,1272.9 1228.5,1257.7 1214.2,1257.7 1215.1,1242.7 1201.5,1242.7 1203.4,1213.2 1219.3,1212.6 1221.2,1183.2 1237.0,1183.2 1238.0,1168.3 1253.2,1168.0 1254.7,1152.7 1269.9,1152.4 1271.2,1137.2 1288.9,1136.8 1289.3,1122.3 1304.9,1121.9" fill="#000"/><polygon points="1177.1,1169.5 1207.5,1168.0 1205.6,1197.4 1175.2,1198.8" fill="#000"/><polygon points="1303.0,1137.2 1347.9,1136.2 1348.2,1151.2 1361.9,1151.2 1361.2,1165.7 1391.0,1166.1 1390.1,1180.3 1404.9,1180.3 1402.4,1209.8 1431.9,1210.2 1429.1,1239.8 1412.9,1240.2 1410.6,1269.7 1395.4,1270.3 1393.9,1285.5 1317.8,1286.4 1315.9,1301.4 1286.1,1302.0 1286.4,1287.4 1257.0,1286.8 1257.9,1272.9 1228.1,1272.9 1230.0,1243.1 1216.1,1242.7 1216.7,1228.4 1233.2,1227.9 1236.1,1183.2 1253.2,1182.8 1254.1,1168.0 1269.9,1167.6 1271.2,1152.4 1301.7,1151.8" fill="#a0a0a0"/><polygon points="1284.0,1167.0 1299.1,1166.6 1298.0,1181.5 1282.9,1181.9" fill="#6e6e6e"/><polygon points="1299.1,1166.6 1314.2,1166.3 1313.2,1181.1 1298.0,1181.5" fill="#6e6e6e"/><polygon points="1314.2,1166.3 1329.3,1165.9 1328.3,1180.8 1313.2,1181.1" fill="#6e6e6e"/><polygon points="1267.8,1182.3 1282.9,1181.9 1281.9,1196.8 1266.8,1197.2" fill="#3c3c3c"/><polygon points="1282.9,1181.9 1298.0,1181.5 1297.0,1196.4 1281.9,1196.8" fill="#c6c6c6"/><polygon points="1298.0,1181.5 1313.2,1181.1 1312.1,1196.0 1297.0,1196.4" fill="#bebebe"/><polygon points="1313.2,1181.1 1328.3,1180.8 1327.2,1195.6 1312.1,1196.0" fill="#c6c6c6"/><polygon points="1328.3,1180.8 1343.4,1180.4 1342.4,1195.3 1327.2,1195.6" fill="#3c3c3c"/><polygon points="1343.4,1180.4 1358.5,1180.0 1357.5,1194.9 1342.4,1195.3" fill="#6e6e6e"/><polygon points="1251.7,1197.5 1266.8,1197.2 1265.7,1212.1 1250.6,1212.4" fill="#3c3c3c"/><polygon points="1266.8,1197.2 1281.9,1196.8 1280.8,1211.7 1265.7,1212.1" fill="#bebebe"/><polygon points="1281.9,1196.8 1297.0,1196.4 1296.0,1211.3 1280.8,1211.7" fill="#b6b6b6"/><polygon points="1297.0,1196.4 1312.1,1196.0 1311.1,1210.9 1296.0,1211.3" fill="#c6c6c6"/><polygon points="1312.1,1196.0 1327.2,1195.6 1326.2,1210.5 1311.1,1210.9" fill="#bebebe"/><polygon points="1327.2,1195.6 1342.4,1195.3 1341.3,1210.2 1326.2,1210.5" fill="#b6b6b6"/><polygon points="1342.4,1195.3 1357.5,1194.9 1356.4,1209.8 1341.3,1210.2" fill="#3c3c3c"/><polygon points="1357.5,1194.9 1372.6,1194.5 1371.5,1209.4 1356.4,1209.8" fill="#6e6e6e"/><polygon points="1250.6,1212.4 1265.7,1212.1 1264.7,1226.9 1249.6,1227.3" fill="#3c3c3c"/><polygon points="1265.7,1212.1 1280.8,1211.7 1279.8,1226.6 1264.7,1226.9" fill="#3c3c3c"/><polygon points="1280.8,1211.7 1296.0,1211.3 1294.9,1226.2 1279.8,1226.6" fill="#3c3c3c"/><polygon points="1296.0,1211.3 1311.1,1210.9 1310.0,1225.8 1294.9,1226.2" fill="#3c3c3c"/><polygon points="1311.1,1210.9 1326.2,1210.5 1325.1,1225.4 1310.0,1225.8" fill="#3c3c3c"/><polygon points="1326.2,1210.5 1341.3,1210.2 1340.3,1225.0 1325.1,1225.4" fill="#c6c6c6"/><polygon points="1341.3,1210.2 1356.4,1209.8 1355.4,1224.7 1340.3,1225.0" fill="#c6c6c6"/><polygon points="1356.4,1209.8 1371.5,1209.4 1370.5,1224.3 1355.4,1224.7" fill="#6e6e6e"/><polygon points="1371.5,1209.4 1386.7,1209.0 1385.6,1223.9 1370.5,1224.3" fill="#6e6e6e"/><polygon points="1249.6,1227.3 1264.7,1226.9 1263.6,1241.8 1248.5,1242.2" fill="#6e6e6e"/><polygon points="1264.7,1226.9 1279.8,1226.6 1278.7,1241.5 1263.6,1241.8" fill="#6e6e6e"/><polygon points="1279.8,1226.6 1294.9,1226.2 1293.9,1241.1 1278.7,1241.5" fill="#6e6e6e"/><polygon points="1294.9,1226.2 1310.0,1225.8 1309.0,1240.7 1293.9,1241.1" fill="#3c3c3c"/><polygon points="1310.0,1225.8 1325.1,1225.4 1324.1,1240.3 1309.0,1240.7" fill="#3c3c3c"/><polygon points="1325.1,1225.4 1340.3,1225.0 1339.2,1239.9 1324.1,1240.3" fill="#6e6e6e"/><polygon points="1340.3,1225.0 1355.4,1224.7 1354.3,1239.6 1339.2,1239.9" fill="#3c3c3c"/><polygon points="1355.4,1224.7 1370.5,1224.3 1369.5,1239.2 1354.3,1239.6" fill="#3c3c3c"/><polygon points="1370.5,1224.3 1385.6,1223.9 1384.6,1238.8 1369.5,1239.2" fill="#6e6e6e"/><polygon points="1385.6,1223.9 1400.7,1223.5 1399.7,1238.4 1384.6,1238.8" fill="#6e6e6e"/><polygon points="1248.5,1242.2 1263.6,1241.8 1262.6,1256.7 1247.5,1257.1" fill="#6e6e6e"/><polygon points="1263.6,1241.8 1278.7,1241.5 1277.7,1256.3 1262.6,1256.7" fill="#6e6e6e"/><polygon points="1278.7,1241.5 1293.9,1241.1 1292.8,1256.0 1277.7,1256.3" fill="#6e6e6e"/><polygon points="1293.9,1241.1 1309.0,1240.7 1307.9,1255.6 1292.8,1256.0" fill="#6e6e6e"/><polygon points="1309.0,1240.7 1324.1,1240.3 1323.1,1255.2 1307.9,1255.6" fill="#3c3c3c"/><polygon points="1324.1,1240.3 1339.2,1239.9 1338.2,1254.8 1323.1,1255.2" fill="#6e6e6e"/><polygon points="1339.2,1239.9 1354.3,1239.6 1353.3,1254.4 1338.2,1254.8" fill="#6e6e6e"/><polygon points="1354.3,1239.6 1369.5,1239.2 1368.4,1254.1 1353.3,1254.4" fill="#6e6e6e"/><polygon points="1369.5,1239.2 1384.6,1238.8 1383.5,1253.7 1368.4,1254.1" fill="#6e6e6e"/><polygon points="1384.6,1238.8 1399.7,1238.4 1398.6,1253.3 1383.5,1253.7" fill="#6e6e6e"/><polygon points="1262.6,1256.7 1277.7,1256.3 1276.7,1271.2 1261.5,1271.6" fill="#6e6e6e"/><polygon points="1277.7,1256.3 1292.8,1256.0 1291.8,1270.9 1276.7,1271.2" fill="#6e6e6e"/><polygon points="1292.8,1256.0 1307.9,1255.6 1306.9,1270.5 1291.8,1270.9" fill="#6e6e6e"/><polygon points="1307.9,1255.6 1323.1,1255.2 1322.0,1270.1 1306.9,1270.5" fill="#6e6e6e"/><polygon points="1323.1,1255.2 1338.2,1254.8 1337.1,1269.7 1322.0,1270.1" fill="#6e6e6e"/><polygon points="1338.2,1254.8 1353.3,1254.4 1352.2,1269.3 1337.1,1269.7" fill="#6e6e6e"/><polygon points="1704.1,1236.2 1703.6,1251.5 1671.5,1251.5 1669.1,1280.3 1698.8,1281.7 1696.9,1310.5 1681.1,1311.4 1668.1,1416.0 1653.7,1416.9 1648.9,1460.1 1618.7,1462.5 1616.3,1476.8 1586.6,1477.8 1583.7,1505.6 1597.2,1506.6 1594.8,1535.8 1565.1,1536.8 1563.6,1551.1 1548.3,1552.1 1545.9,1566.5 1531.0,1567.9 1529.1,1582.3 1513.3,1583.7 1511.8,1597.6 1436.6,1599.1 1434.2,1613.5 1388.6,1614.9 1387.2,1629.3 1311.9,1630.7 1309.5,1645.6 1294.2,1645.6 1294.2,1631.2 1280.8,1631.7 1279.8,1646.1 1204.1,1647.0 1203.1,1659.0 1729.0,1659.0 1729.0,1236.2" fill="#000"/><polygon points="964.4,1576.1 1012.3,1575.1 1012.3,1590.5 1025.7,1590.5 1026.7,1604.8 1040.1,1604.8 1040.1,1619.7 1054.5,1619.7 1054.5,1603.9 1068.9,1603.9 1069.8,1618.3 1098.6,1618.3 1099.6,1633.6 1157.1,1632.6 1158.5,1647.0 1187.3,1648.0 1187.3,1659.0 964.4,1659.0" fill="#000"/><polygon points="1615.4,1207.4 1630.7,1206.9 1629.8,1221.3 1614.4,1221.8" fill="#000"/><polygon points="1598.1,1372.3 1626.9,1371.9 1625.9,1386.7 1610.6,1387.2 1609.6,1401.6 1594.8,1401.6 1597.2,1378.6" fill="#000"/><polygon points="1678.7,1595.2 1694.0,1595.2 1693.0,1610.1 1708.4,1610.1 1704.1,1659.0 1642.7,1659.0 1643.7,1641.3 1658.5,1640.3 1661.9,1610.1 1677.7,1610.1" fill="#a3a3a3"/></g><rect x="982.3" y="917" width="180" height="31.5" rx="4.5" fill="#000"/><text x="990.5" y="938.6" font-size="20.6" text-anchor="start" font-weight="bold" fill="#fff" >WMG Count: 0</text><rect x="970.6" y="903.3" width="750.4" height="749.7" fill="none" stroke="#000" stroke-width="2.2"/>
</svg></body></html>
